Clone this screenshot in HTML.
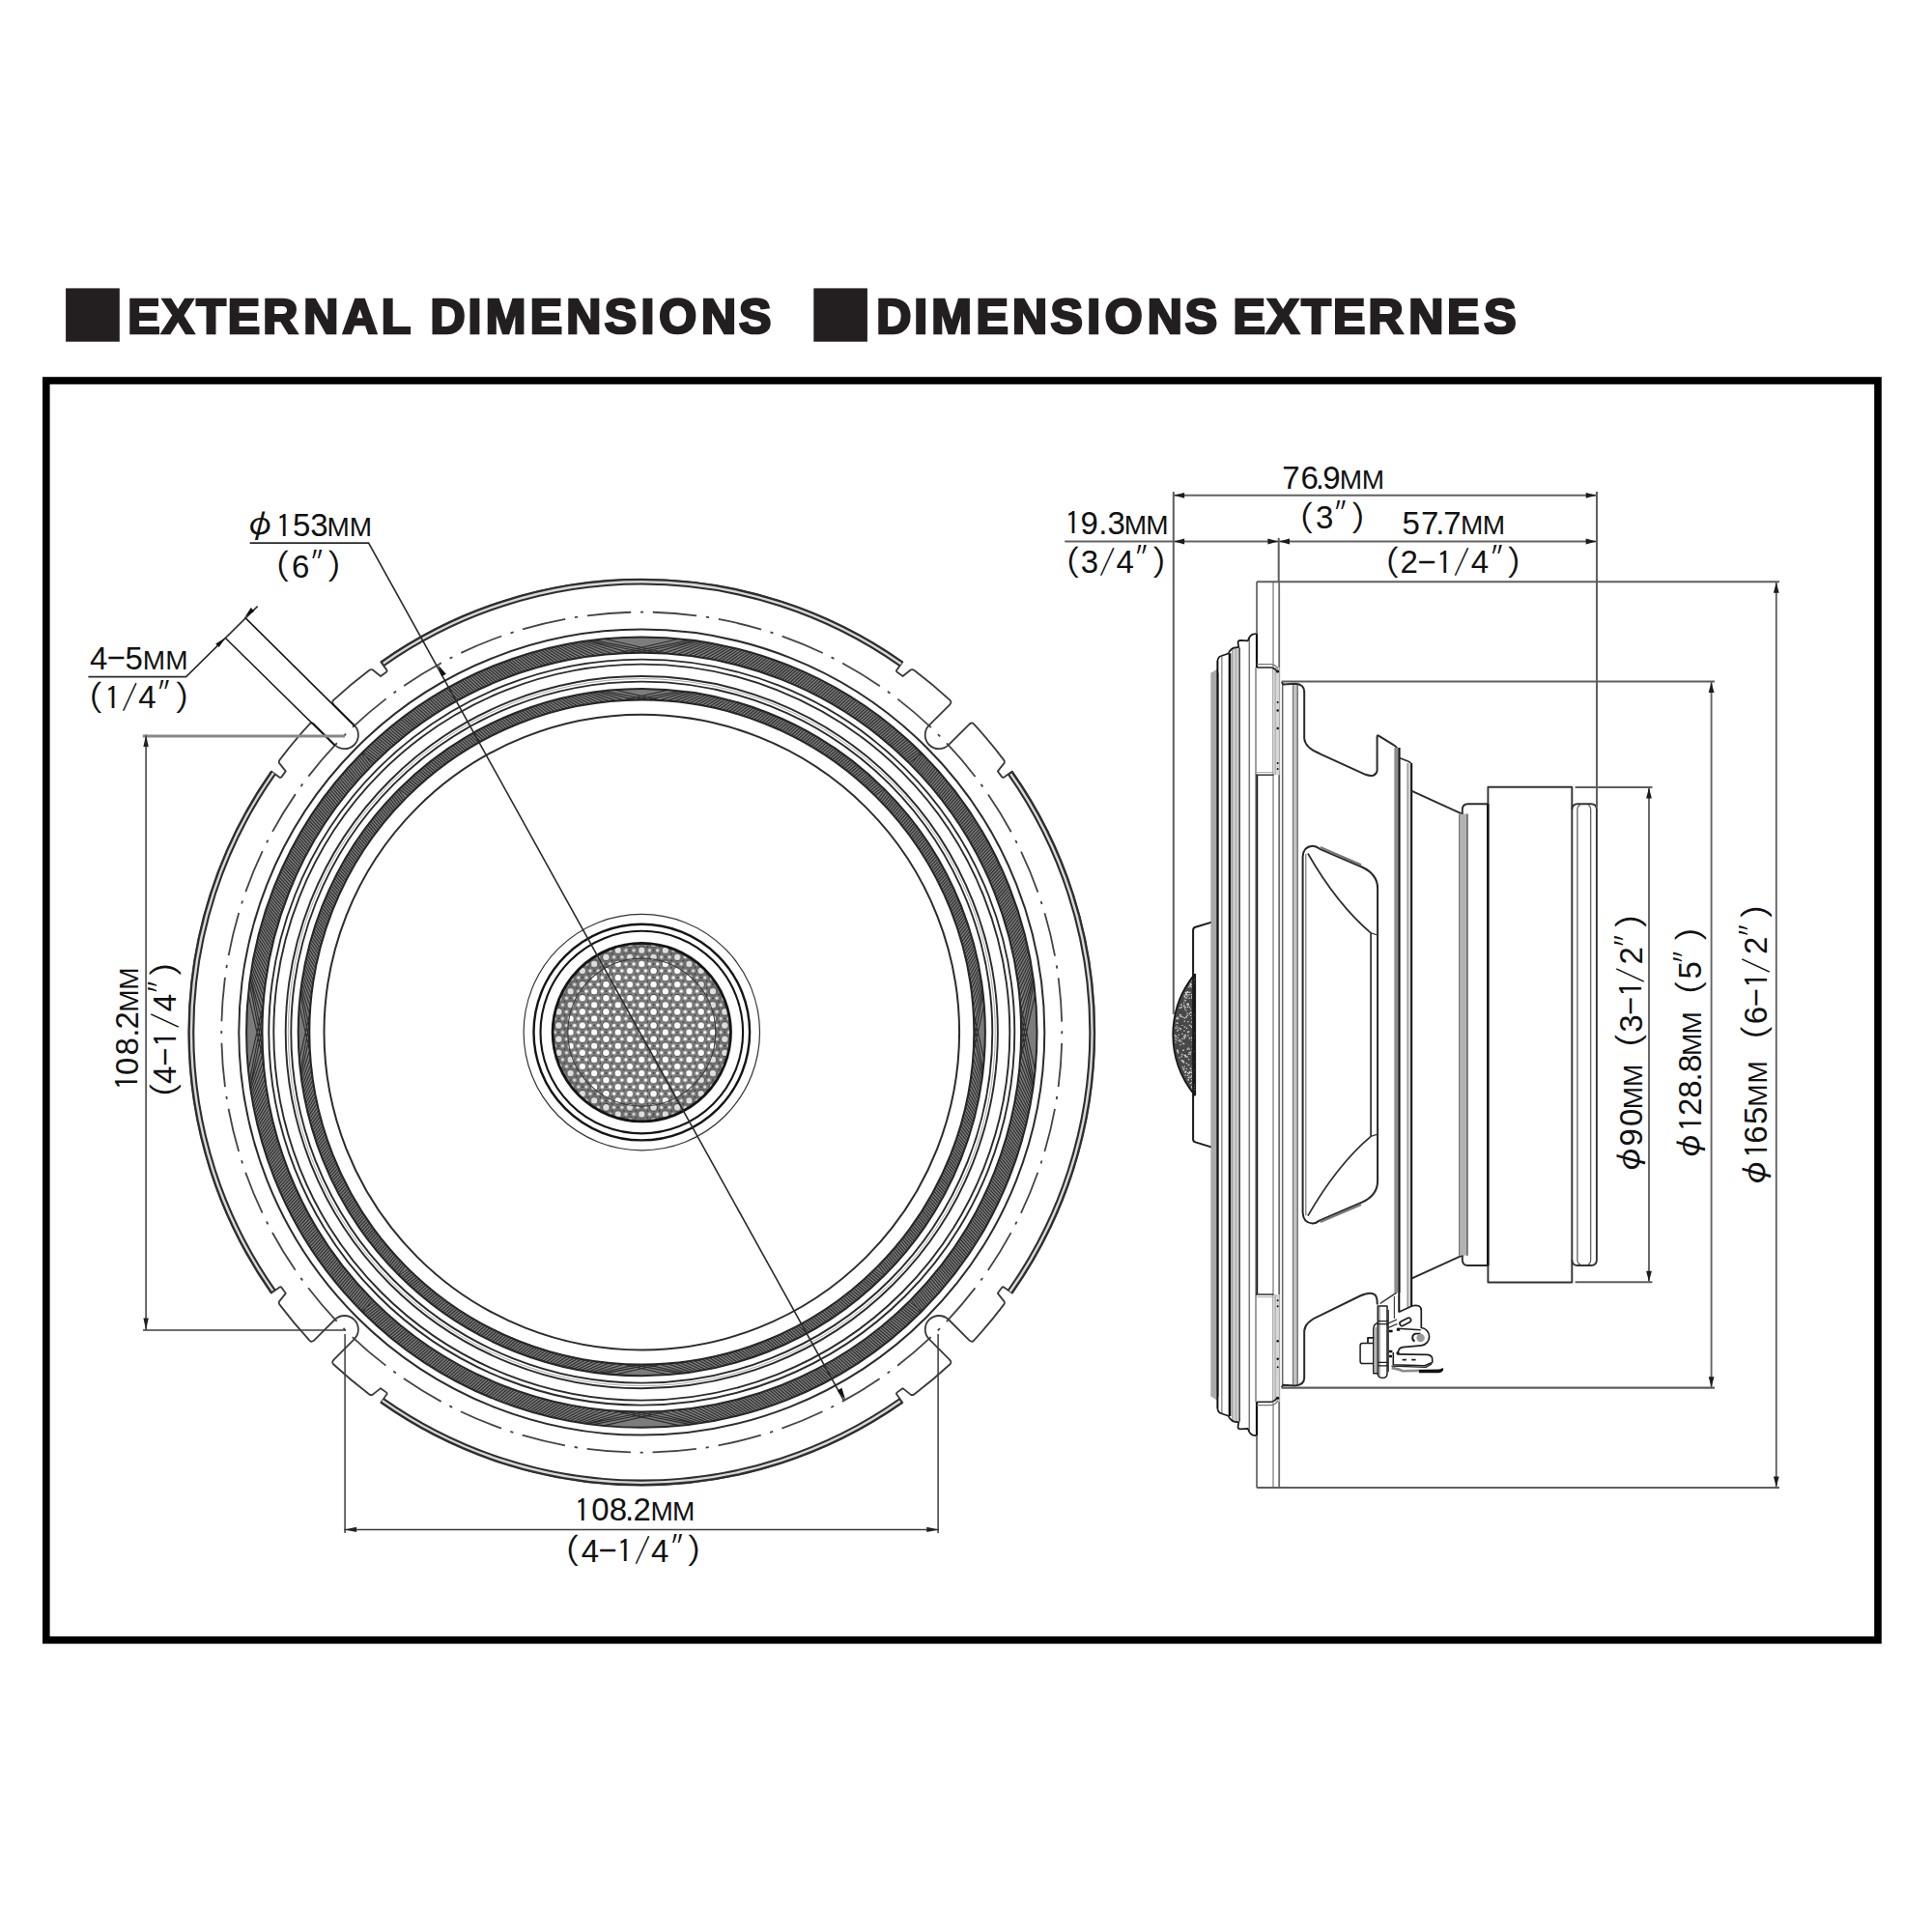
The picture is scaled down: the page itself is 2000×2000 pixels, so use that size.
<!DOCTYPE html>
<html lang="en">
<head>
<meta charset="utf-8">
<title>External Dimensions / Dimensions Externes</title>
<style>
html,body{margin:0;padding:0;background:#fff;}
body{width:2000px;height:2000px;position:relative;overflow:hidden;font-family:"Liberation Sans","IPAGothic",sans-serif;}
#drawing{position:absolute;left:0;top:0;width:2000px;height:2000px;display:block;}
</style>
</head>
<body>
<svg id="drawing" role="img" aria-label="Speaker external dimensions drawing" width="2000" height="2000" viewBox="0 0 2000 2000">
<defs>
<pattern id="mesh" patternUnits="userSpaceOnUse" x="664.3" y="1068.6" width="24.56" height="14.14">
<rect x="0" y="0" width="24.56" height="14.14" fill="#808080"/>
<g fill="#fff" stroke="#4a4a4a" stroke-width="1.1">
<circle cx="0" cy="0" r="3.9"/><circle cx="24.56" cy="0" r="3.9"/><circle cx="0" cy="14.14" r="3.9"/><circle cx="24.56" cy="14.14" r="3.9"/><circle cx="12.28" cy="7.07" r="3.9"/>
</g>
<g fill="#fff">
<circle cx="8.19" cy="0" r="1.7"/><circle cx="16.37" cy="0" r="1.7"/><circle cx="8.19" cy="14.14" r="1.7"/><circle cx="16.37" cy="14.14" r="1.7"/>
<circle cx="4.09" cy="7.07" r="1.7"/><circle cx="20.47" cy="7.07" r="1.7"/>
</g>
<g fill="#3a3a3a">
<circle cx="6.14" cy="3.53" r="0.9"/><circle cx="18.42" cy="3.53" r="0.9"/><circle cx="6.14" cy="10.6" r="0.9"/><circle cx="18.42" cy="10.6" r="0.9"/><circle cx="12.28" cy="0" r="0.9"/><circle cx="12.28" cy="14.14" r="0.9"/><circle cx="0" cy="7.07" r="0.9"/><circle cx="24.56" cy="7.07" r="0.9"/>
</g>
</pattern>
</defs>

<g id="titles" fill="#231f20">
<rect x="68.1" y="298.4" width="55.7" height="55.3"/>
<rect x="842.3" y="298.4" width="55.6" height="55.3"/>
<text text-anchor="middle" y="345.3" font-family="'Liberation Sans', sans-serif" font-weight="bold" font-size="50" stroke="#231f20" stroke-width="2.7" stroke-linejoin="miter"><tspan x="149.0">E</tspan><tspan x="184.2">X</tspan><tspan x="218.4">T</tspan><tspan x="252.5">E</tspan><tspan x="290.3">R</tspan><tspan x="332.2">N</tspan><tspan x="372.6">A</tspan><tspan x="409.9">L</tspan><tspan x="436.7"> </tspan><tspan x="463.5">D</tspan><tspan x="491.4">I</tspan><tspan x="523.5">M</tspan><tspan x="565.5">E</tspan><tspan x="604.3">N</tspan><tspan x="642.5">S</tspan><tspan x="670.5">I</tspan><tspan x="701.6">O</tspan><tspan x="744.0">N</tspan><tspan x="781.8">S</tspan></text>
<text text-anchor="middle" y="345.3" font-family="'Liberation Sans', sans-serif" font-weight="bold" font-size="50" stroke="#231f20" stroke-width="2.7" stroke-linejoin="miter"><tspan x="925.2">D</tspan><tspan x="953.1">I</tspan><tspan x="985.2">M</tspan><tspan x="1027.2">E</tspan><tspan x="1066.0">N</tspan><tspan x="1104.2">S</tspan><tspan x="1132.2">I</tspan><tspan x="1163.3">O</tspan><tspan x="1205.7">N</tspan><tspan x="1243.5">S</tspan><tspan x="1268.3"> </tspan><tspan x="1293.2">E</tspan><tspan x="1328.3">X</tspan><tspan x="1362.5">T</tspan><tspan x="1396.7">E</tspan><tspan x="1434.5">R</tspan><tspan x="1476.4">N</tspan><tspan x="1514.7">E</tspan><tspan x="1553.0">S</tspan></text>
</g>
<rect x="47.8" y="394" width="1896.2" height="1303.8" fill="none" stroke="#000" stroke-width="7.6"/>
<g id="front-view" fill="none" stroke-linecap="butt">
<clipPath id="bandclip1"><path clip-rule="evenodd" d="M255.1 1068.6A409.2 409.2 0 1 0 1073.5 1068.6A409.2 409.2 0 1 0 255.1 1068.6ZM271.5 1068.6A392.8 392.8 0 1 0 1057.1 1068.6A392.8 392.8 0 1 0 271.5 1068.6Z"/></clipPath>
<circle cx="664.3" cy="1068.6" r="401" stroke="#7c7c7c" stroke-width="16.4"/>
<path clip-path="url(#bandclip1)" d="M1053.6 1028.7L1072.6 1112.6M1054.5 1039.5L1071.3 1123.9M1055.4 1056.4L1070.6 1128.8M1055.5 1075.5L1070.6 1128.4M1055.2 1086.7L1070.2 1131.1M1054.7 1095.2L1069.7 1134.5M1054.1 1102.4L1069.1 1138.0M1053.5 1108.6L1068.5 1141.5M1052.9 1114.3L1067.8 1145.1M1052.3 1119.5L1067.1 1148.5M1051.6 1124.3L1066.5 1151.9M1050.9 1128.9L1065.7 1155.3M1050.2 1133.2L1065.0 1158.6M1049.5 1137.4L1064.3 1161.8M1048.8 1141.4L1063.5 1165.0M1048.0 1145.3L1062.8 1168.1M1047.3 1149.0L1062.0 1171.2M1046.5 1152.6L1061.2 1174.3M1045.7 1156.1L1060.4 1177.3M1044.9 1159.6L1059.5 1180.2M1044.1 1163.0L1058.7 1183.1M1043.2 1166.3L1057.9 1186.0M1042.4 1169.5L1057.0 1188.9M1041.5 1172.7L1056.1 1191.7M1040.6 1175.8L1055.2 1194.5M1039.7 1178.9L1054.3 1197.3M1038.8 1181.9L1053.4 1200.1M1037.9 1184.9L1052.5 1202.8M1037.0 1187.8L1051.5 1205.5M1036.1 1190.7L1050.6 1208.2M1035.1 1193.5L1049.6 1210.8M1034.1 1196.4L1048.6 1213.4M1033.2 1199.2L1047.6 1216.1M1032.2 1201.9L1046.6 1218.7M1031.2 1204.7L1045.6 1221.2M1030.2 1207.4L1044.6 1223.8M1029.1 1210.1L1043.5 1226.3M1028.1 1212.7L1042.4 1228.9M1027.0 1215.3L1041.4 1231.4M1026.0 1217.9L1040.3 1233.9M1024.9 1220.5L1039.2 1236.3M1023.8 1223.1L1038.1 1238.8M1022.7 1225.6L1036.9 1241.2M1021.6 1228.2L1035.8 1243.7M1020.5 1230.7L1034.7 1246.1M1019.3 1233.1L1033.5 1248.5M1018.2 1235.6L1032.3 1250.9M1017.0 1238.0L1031.1 1253.3M1015.8 1240.5L1029.9 1255.7M1014.6 1242.9L1028.7 1258.0M1013.4 1245.3L1027.5 1260.4M1012.2 1247.6L1026.2 1262.7M1011.0 1250.0L1025.0 1265.0M1009.8 1252.3L1023.7 1267.3M1008.5 1254.7L1022.5 1269.6M1007.3 1257.0L1021.2 1271.9M1006.0 1259.3L1019.9 1274.2M1004.7 1261.6L1018.5 1276.4M1003.4 1263.8L1017.2 1278.7M1002.1 1266.1L1015.9 1280.9M1000.8 1268.3L1014.5 1283.1M999.4 1270.6L1013.2 1285.3M998.1 1272.8L1011.8 1287.5M996.7 1275.0L1010.4 1289.7M995.4 1277.2L1009.0 1291.9M994.0 1279.3L1007.6 1294.1M992.6 1281.5L1006.1 1296.2M991.2 1283.7L1004.7 1298.4M989.8 1285.8L1003.2 1300.5M988.4 1287.9L1001.8 1302.7M986.9 1290.0L1000.3 1304.8M985.5 1292.1L998.8 1306.9M984.0 1294.2L997.3 1309.0M982.5 1296.3L995.8 1311.1M981.1 1298.3L994.3 1313.1M979.6 1300.4L992.7 1315.2M978.1 1302.4L991.2 1317.3M976.5 1304.4L989.6 1319.3M975.0 1306.5L988.0 1321.3M973.5 1308.5L986.4 1323.4M971.9 1310.4L984.8 1325.4M970.4 1312.4L983.2 1327.4M968.8 1314.4L981.6 1329.3M967.2 1316.3L980.0 1331.3M965.6 1318.3L978.3 1333.3M964.0 1320.2L976.7 1335.2M962.4 1322.1L975.0 1337.2M960.7 1324.0L973.3 1339.1M959.1 1325.9L971.6 1341.0M957.5 1327.8L969.9 1343.0M955.8 1329.7L968.2 1344.9M954.1 1331.5L966.5 1346.7M952.4 1333.4L964.7 1348.6M950.7 1335.2L963.0 1350.5M949.0 1337.0L961.2 1352.3M947.3 1338.8L959.5 1354.2M945.6 1340.6L957.7 1356.0M943.9 1342.4L955.9 1357.8M942.1 1344.2L954.1 1359.6M1053.6 1108.5L1072.6 1024.6M1054.5 1097.7L1071.3 1013.3M1055.4 1080.8L1070.6 1008.4M1055.5 1061.7L1070.6 1008.8M1055.2 1050.5L1070.2 1006.1M1054.7 1042.0L1069.7 1002.7M1054.1 1034.8L1069.1 999.2M1053.5 1028.6L1068.5 995.7M1052.9 1022.9L1067.8 992.1M1052.3 1017.7L1067.1 988.7M1051.6 1012.9L1066.5 985.3M1050.9 1008.3L1065.7 981.9M1050.2 1004.0L1065.0 978.6M1049.5 999.8L1064.3 975.4M1048.8 995.8L1063.5 972.2M1048.0 991.9L1062.8 969.1M1047.3 988.2L1062.0 966.0M1046.5 984.6L1061.2 962.9M1045.7 981.1L1060.4 959.9M1044.9 977.6L1059.5 957.0M1044.1 974.2L1058.7 954.1M1043.2 970.9L1057.9 951.2M1042.4 967.7L1057.0 948.3M1041.5 964.5L1056.1 945.5M1040.6 961.4L1055.2 942.7M1039.7 958.3L1054.3 939.9M1038.8 955.3L1053.4 937.1M1037.9 952.3L1052.5 934.4M1037.0 949.4L1051.5 931.7M1036.1 946.5L1050.6 929.0M1035.1 943.7L1049.6 926.4M1034.1 940.8L1048.6 923.8M1033.2 938.0L1047.6 921.1M1032.2 935.3L1046.6 918.5M1031.2 932.5L1045.6 916.0M1030.2 929.8L1044.6 913.4M1029.1 927.1L1043.5 910.9M1028.1 924.5L1042.4 908.3M1027.0 921.9L1041.4 905.8M1026.0 919.3L1040.3 903.3M1024.9 916.7L1039.2 900.9M1023.8 914.1L1038.1 898.4M1022.7 911.6L1036.9 896.0M1021.6 909.0L1035.8 893.5M1020.5 906.5L1034.7 891.1M1019.3 904.1L1033.5 888.7M1018.2 901.6L1032.3 886.3M1017.0 899.2L1031.1 883.9M1015.8 896.7L1029.9 881.5M1014.6 894.3L1028.7 879.2M1013.4 891.9L1027.5 876.8M1012.2 889.6L1026.2 874.5M1011.0 887.2L1025.0 872.2M1009.8 884.9L1023.7 869.9M1008.5 882.5L1022.5 867.6M1007.3 880.2L1021.2 865.3M1006.0 877.9L1019.9 863.0M1004.7 875.6L1018.5 860.8M1003.4 873.4L1017.2 858.5M1002.1 871.1L1015.9 856.3M1000.8 868.9L1014.5 854.1M999.4 866.6L1013.2 851.9M998.1 864.4L1011.8 849.7M996.7 862.2L1010.4 847.5M995.4 860.0L1009.0 845.3M994.0 857.9L1007.6 843.1M992.6 855.7L1006.1 841.0M991.2 853.5L1004.7 838.8M989.8 851.4L1003.2 836.7M988.4 849.3L1001.8 834.5M986.9 847.2L1000.3 832.4M985.5 845.1L998.8 830.3M984.0 843.0L997.3 828.2M982.5 840.9L995.8 826.1M981.1 838.9L994.3 824.1M979.6 836.8L992.7 822.0M978.1 834.8L991.2 819.9M976.5 832.8L989.6 817.9M975.0 830.7L988.0 815.9M973.5 828.7L986.4 813.8M971.9 826.8L984.8 811.8M970.4 824.8L983.2 809.8M968.8 822.8L981.6 807.9M967.2 820.9L980.0 805.9M965.6 818.9L978.3 803.9M964.0 817.0L976.7 802.0M962.4 815.1L975.0 800.0M960.7 813.2L973.3 798.1M959.1 811.3L971.6 796.2M957.5 809.4L969.9 794.2M955.8 807.5L968.2 792.3M954.1 805.7L966.5 790.5M952.4 803.8L964.7 788.6M950.7 802.0L963.0 786.7M949.0 800.2L961.2 784.9M947.3 798.4L959.5 783.0M945.6 796.6L957.7 781.2M943.9 794.8L955.9 779.4M942.1 793.0L954.1 777.6M704.2 1457.9L620.3 1476.9M693.4 1458.8L609.0 1475.6M676.5 1459.7L604.1 1474.9M657.4 1459.8L604.5 1474.9M646.2 1459.5L601.8 1474.5M637.7 1459.0L598.4 1474.0M630.5 1458.4L594.9 1473.4M624.3 1457.8L591.4 1472.8M618.6 1457.2L587.8 1472.1M613.4 1456.6L584.4 1471.4M608.6 1455.9L581.0 1470.8M604.0 1455.2L577.6 1470.0M599.7 1454.5L574.3 1469.3M595.5 1453.8L571.1 1468.6M591.5 1453.1L567.9 1467.8M587.6 1452.3L564.8 1467.1M583.9 1451.6L561.7 1466.3M580.3 1450.8L558.6 1465.5M576.8 1450.0L555.6 1464.7M573.3 1449.2L552.7 1463.8M569.9 1448.4L549.8 1463.0M566.6 1447.5L546.9 1462.2M563.4 1446.7L544.0 1461.3M560.2 1445.8L541.2 1460.4M557.1 1444.9L538.4 1459.5M554.0 1444.0L535.6 1458.6M551.0 1443.1L532.8 1457.7M548.0 1442.2L530.1 1456.8M545.1 1441.3L527.4 1455.8M542.2 1440.4L524.7 1454.9M539.4 1439.4L522.1 1453.9M536.5 1438.4L519.5 1452.9M533.7 1437.5L516.8 1451.9M531.0 1436.5L514.2 1450.9M528.2 1435.5L511.7 1449.9M525.5 1434.5L509.1 1448.9M522.8 1433.4L506.6 1447.8M520.2 1432.4L504.0 1446.7M517.6 1431.3L501.5 1445.7M515.0 1430.3L499.0 1444.6M512.4 1429.2L496.6 1443.5M509.8 1428.1L494.1 1442.4M507.3 1427.0L491.7 1441.2M504.7 1425.9L489.2 1440.1M502.2 1424.8L486.8 1439.0M499.8 1423.6L484.4 1437.8M497.3 1422.5L482.0 1436.6M494.9 1421.3L479.6 1435.4M492.4 1420.1L477.2 1434.2M490.0 1418.9L474.9 1433.0M487.6 1417.7L472.5 1431.8M485.3 1416.5L470.2 1430.5M482.9 1415.3L467.9 1429.3M480.6 1414.1L465.6 1428.0M478.2 1412.8L463.3 1426.8M475.9 1411.6L461.0 1425.5M473.6 1410.3L458.7 1424.2M471.3 1409.0L456.5 1422.8M469.1 1407.7L454.2 1421.5M466.8 1406.4L452.0 1420.2M464.6 1405.1L449.8 1418.8M462.3 1403.7L447.6 1417.5M460.1 1402.4L445.4 1416.1M457.9 1401.0L443.2 1414.7M455.7 1399.7L441.0 1413.3M453.6 1398.3L438.8 1411.9M451.4 1396.9L436.7 1410.4M449.2 1395.5L434.5 1409.0M447.1 1394.1L432.4 1407.5M445.0 1392.7L430.2 1406.1M442.9 1391.2L428.1 1404.6M440.8 1389.8L426.0 1403.1M438.7 1388.3L423.9 1401.6M436.6 1386.8L421.8 1400.1M434.6 1385.4L419.8 1398.6M432.5 1383.9L417.7 1397.0M430.5 1382.4L415.6 1395.5M428.5 1380.8L413.6 1393.9M426.4 1379.3L411.6 1392.3M424.4 1377.8L409.5 1390.7M422.5 1376.2L407.5 1389.1M420.5 1374.7L405.5 1387.5M418.5 1373.1L403.6 1385.9M416.6 1371.5L401.6 1384.3M414.6 1369.9L399.6 1382.6M412.7 1368.3L397.7 1381.0M410.8 1366.7L395.7 1379.3M408.9 1365.0L393.8 1377.6M407.0 1363.4L391.9 1375.9M405.1 1361.8L389.9 1374.2M403.2 1360.1L388.0 1372.5M401.4 1358.4L386.2 1370.8M399.5 1356.7L384.3 1369.0M397.7 1355.0L382.4 1367.3M395.9 1353.3L380.6 1365.5M394.1 1351.6L378.7 1363.8M392.3 1349.9L376.9 1362.0M390.5 1348.2L375.1 1360.2M388.7 1346.4L373.3 1358.4M624.4 1457.9L708.3 1476.9M635.2 1458.8L719.6 1475.6M652.1 1459.7L724.5 1474.9M671.2 1459.8L724.1 1474.9M682.4 1459.5L726.8 1474.5M690.9 1459.0L730.2 1474.0M698.1 1458.4L733.7 1473.4M704.3 1457.8L737.2 1472.8M710.0 1457.2L740.8 1472.1M715.2 1456.6L744.2 1471.4M720.0 1455.9L747.6 1470.8M724.6 1455.2L751.0 1470.0M728.9 1454.5L754.3 1469.3M733.1 1453.8L757.5 1468.6M737.1 1453.1L760.7 1467.8M741.0 1452.3L763.8 1467.1M744.7 1451.6L766.9 1466.3M748.3 1450.8L770.0 1465.5M751.8 1450.0L773.0 1464.7M755.3 1449.2L775.9 1463.8M758.7 1448.4L778.8 1463.0M762.0 1447.5L781.7 1462.2M765.2 1446.7L784.6 1461.3M768.4 1445.8L787.4 1460.4M771.5 1444.9L790.2 1459.5M774.6 1444.0L793.0 1458.6M777.6 1443.1L795.8 1457.7M780.6 1442.2L798.5 1456.8M783.5 1441.3L801.2 1455.8M786.4 1440.4L803.9 1454.9M789.2 1439.4L806.5 1453.9M792.1 1438.4L809.1 1452.9M794.9 1437.5L811.8 1451.9M797.6 1436.5L814.4 1450.9M800.4 1435.5L816.9 1449.9M803.1 1434.5L819.5 1448.9M805.8 1433.4L822.0 1447.8M808.4 1432.4L824.6 1446.7M811.0 1431.3L827.1 1445.7M813.6 1430.3L829.6 1444.6M816.2 1429.2L832.0 1443.5M818.8 1428.1L834.5 1442.4M821.3 1427.0L836.9 1441.2M823.9 1425.9L839.4 1440.1M826.4 1424.8L841.8 1439.0M828.8 1423.6L844.2 1437.8M831.3 1422.5L846.6 1436.6M833.7 1421.3L849.0 1435.4M836.2 1420.1L851.4 1434.2M838.6 1418.9L853.7 1433.0M841.0 1417.7L856.1 1431.8M843.3 1416.5L858.4 1430.5M845.7 1415.3L860.7 1429.3M848.0 1414.1L863.0 1428.0M850.4 1412.8L865.3 1426.8M852.7 1411.6L867.6 1425.5M855.0 1410.3L869.9 1424.2M857.3 1409.0L872.1 1422.8M859.5 1407.7L874.4 1421.5M861.8 1406.4L876.6 1420.2M864.0 1405.1L878.8 1418.8M866.3 1403.7L881.0 1417.5M868.5 1402.4L883.2 1416.1M870.7 1401.0L885.4 1414.7M872.9 1399.7L887.6 1413.3M875.0 1398.3L889.8 1411.9M877.2 1396.9L891.9 1410.4M879.4 1395.5L894.1 1409.0M881.5 1394.1L896.2 1407.5M883.6 1392.7L898.4 1406.1M885.7 1391.2L900.5 1404.6M887.8 1389.8L902.6 1403.1M889.9 1388.3L904.7 1401.6M892.0 1386.8L906.8 1400.1M894.0 1385.4L908.8 1398.6M896.1 1383.9L910.9 1397.0M898.1 1382.4L913.0 1395.5M900.1 1380.8L915.0 1393.9M902.2 1379.3L917.0 1392.3M904.2 1377.8L919.1 1390.7M906.1 1376.2L921.1 1389.1M908.1 1374.7L923.1 1387.5M910.1 1373.1L925.0 1385.9M912.0 1371.5L927.0 1384.3M914.0 1369.9L929.0 1382.6M915.9 1368.3L930.9 1381.0M917.8 1366.7L932.9 1379.3M919.7 1365.0L934.8 1377.6M921.6 1363.4L936.7 1375.9M923.5 1361.8L938.7 1374.2M925.4 1360.1L940.6 1372.5M927.2 1358.4L942.4 1370.8M929.1 1356.7L944.3 1369.0M930.9 1355.0L946.2 1367.3M932.7 1353.3L948.0 1365.5M934.5 1351.6L949.9 1363.8M936.3 1349.9L951.7 1362.0M938.1 1348.2L953.5 1360.2M939.9 1346.4L955.3 1358.4M275.0 1108.5L256.0 1024.6M274.1 1097.7L257.3 1013.3M273.2 1080.8L258.0 1008.4M273.1 1061.7L258.0 1008.8M273.4 1050.5L258.4 1006.1M273.9 1042.0L258.9 1002.7M274.5 1034.8L259.5 999.2M275.1 1028.6L260.1 995.7M275.7 1022.9L260.8 992.1M276.3 1017.7L261.5 988.7M277.0 1012.9L262.1 985.3M277.7 1008.3L262.9 981.9M278.4 1004.0L263.6 978.6M279.1 999.8L264.3 975.4M279.8 995.8L265.1 972.2M280.6 991.9L265.8 969.1M281.3 988.2L266.6 966.0M282.1 984.6L267.4 962.9M282.9 981.1L268.2 959.9M283.7 977.6L269.1 957.0M284.5 974.2L269.9 954.1M285.4 970.9L270.7 951.2M286.2 967.7L271.6 948.3M287.1 964.5L272.5 945.5M288.0 961.4L273.4 942.7M288.9 958.3L274.3 939.9M289.8 955.3L275.2 937.1M290.7 952.3L276.1 934.4M291.6 949.4L277.1 931.7M292.5 946.5L278.0 929.0M293.5 943.7L279.0 926.4M294.5 940.8L280.0 923.8M295.4 938.0L281.0 921.1M296.4 935.3L282.0 918.5M297.4 932.5L283.0 916.0M298.4 929.8L284.0 913.4M299.5 927.1L285.1 910.9M300.5 924.5L286.2 908.3M301.6 921.9L287.2 905.8M302.6 919.3L288.3 903.3M303.7 916.7L289.4 900.9M304.8 914.1L290.5 898.4M305.9 911.6L291.7 896.0M307.0 909.0L292.8 893.5M308.1 906.5L293.9 891.1M309.3 904.1L295.1 888.7M310.4 901.6L296.3 886.3M311.6 899.2L297.5 883.9M312.8 896.7L298.7 881.5M314.0 894.3L299.9 879.2M315.2 891.9L301.1 876.8M316.4 889.6L302.4 874.5M317.6 887.2L303.6 872.2M318.8 884.9L304.9 869.9M320.1 882.5L306.1 867.6M321.3 880.2L307.4 865.3M322.6 877.9L308.7 863.0M323.9 875.6L310.1 860.8M325.2 873.4L311.4 858.5M326.5 871.1L312.7 856.3M327.8 868.9L314.1 854.1M329.2 866.6L315.4 851.9M330.5 864.4L316.8 849.7M331.9 862.2L318.2 847.5M333.2 860.0L319.6 845.3M334.6 857.9L321.0 843.1M336.0 855.7L322.5 841.0M337.4 853.5L323.9 838.8M338.8 851.4L325.4 836.7M340.2 849.3L326.8 834.5M341.7 847.2L328.3 832.4M343.1 845.1L329.8 830.3M344.6 843.0L331.3 828.2M346.1 840.9L332.8 826.1M347.5 838.9L334.3 824.1M349.0 836.8L335.9 822.0M350.5 834.8L337.4 819.9M352.1 832.8L339.0 817.9M353.6 830.7L340.6 815.9M355.1 828.7L342.2 813.8M356.7 826.8L343.8 811.8M358.2 824.8L345.4 809.8M359.8 822.8L347.0 807.9M361.4 820.9L348.6 805.9M363.0 818.9L350.3 803.9M364.6 817.0L351.9 802.0M366.2 815.1L353.6 800.0M367.9 813.2L355.3 798.1M369.5 811.3L357.0 796.2M371.1 809.4L358.7 794.2M372.8 807.5L360.4 792.3M374.5 805.7L362.1 790.5M376.2 803.8L363.9 788.6M377.9 802.0L365.6 786.7M379.6 800.2L367.4 784.9M381.3 798.4L369.1 783.0M383.0 796.6L370.9 781.2M384.7 794.8L372.7 779.4M386.5 793.0L374.5 777.6M275.0 1028.7L256.0 1112.6M274.1 1039.5L257.3 1123.9M273.2 1056.4L258.0 1128.8M273.1 1075.5L258.0 1128.4M273.4 1086.7L258.4 1131.1M273.9 1095.2L258.9 1134.5M274.5 1102.4L259.5 1138.0M275.1 1108.6L260.1 1141.5M275.7 1114.3L260.8 1145.1M276.3 1119.5L261.5 1148.5M277.0 1124.3L262.1 1151.9M277.7 1128.9L262.9 1155.3M278.4 1133.2L263.6 1158.6M279.1 1137.4L264.3 1161.8M279.8 1141.4L265.1 1165.0M280.6 1145.3L265.8 1168.1M281.3 1149.0L266.6 1171.2M282.1 1152.6L267.4 1174.3M282.9 1156.1L268.2 1177.3M283.7 1159.6L269.1 1180.2M284.5 1163.0L269.9 1183.1M285.4 1166.3L270.7 1186.0M286.2 1169.5L271.6 1188.9M287.1 1172.7L272.5 1191.7M288.0 1175.8L273.4 1194.5M288.9 1178.9L274.3 1197.3M289.8 1181.9L275.2 1200.1M290.7 1184.9L276.1 1202.8M291.6 1187.8L277.1 1205.5M292.5 1190.7L278.0 1208.2M293.5 1193.5L279.0 1210.8M294.5 1196.4L280.0 1213.4M295.4 1199.2L281.0 1216.1M296.4 1201.9L282.0 1218.7M297.4 1204.7L283.0 1221.2M298.4 1207.4L284.0 1223.8M299.5 1210.1L285.1 1226.3M300.5 1212.7L286.2 1228.9M301.6 1215.3L287.2 1231.4M302.6 1217.9L288.3 1233.9M303.7 1220.5L289.4 1236.3M304.8 1223.1L290.5 1238.8M305.9 1225.6L291.7 1241.2M307.0 1228.2L292.8 1243.7M308.1 1230.7L293.9 1246.1M309.3 1233.1L295.1 1248.5M310.4 1235.6L296.3 1250.9M311.6 1238.0L297.5 1253.3M312.8 1240.5L298.7 1255.7M314.0 1242.9L299.9 1258.0M315.2 1245.3L301.1 1260.4M316.4 1247.6L302.4 1262.7M317.6 1250.0L303.6 1265.0M318.8 1252.3L304.9 1267.3M320.1 1254.7L306.1 1269.6M321.3 1257.0L307.4 1271.9M322.6 1259.3L308.7 1274.2M323.9 1261.6L310.1 1276.4M325.2 1263.8L311.4 1278.7M326.5 1266.1L312.7 1280.9M327.8 1268.3L314.1 1283.1M329.2 1270.6L315.4 1285.3M330.5 1272.8L316.8 1287.5M331.9 1275.0L318.2 1289.7M333.2 1277.2L319.6 1291.9M334.6 1279.3L321.0 1294.1M336.0 1281.5L322.5 1296.2M337.4 1283.7L323.9 1298.4M338.8 1285.8L325.4 1300.5M340.2 1287.9L326.8 1302.7M341.7 1290.0L328.3 1304.8M343.1 1292.1L329.8 1306.9M344.6 1294.2L331.3 1309.0M346.1 1296.3L332.8 1311.1M347.5 1298.3L334.3 1313.1M349.0 1300.4L335.9 1315.2M350.5 1302.4L337.4 1317.3M352.1 1304.4L339.0 1319.3M353.6 1306.5L340.6 1321.3M355.1 1308.5L342.2 1323.4M356.7 1310.4L343.8 1325.4M358.2 1312.4L345.4 1327.4M359.8 1314.4L347.0 1329.3M361.4 1316.3L348.6 1331.3M363.0 1318.3L350.3 1333.3M364.6 1320.2L351.9 1335.2M366.2 1322.1L353.6 1337.2M367.9 1324.0L355.3 1339.1M369.5 1325.9L357.0 1341.0M371.1 1327.8L358.7 1343.0M372.8 1329.7L360.4 1344.9M374.5 1331.5L362.1 1346.7M376.2 1333.4L363.9 1348.6M377.9 1335.2L365.6 1350.5M379.6 1337.0L367.4 1352.3M381.3 1338.8L369.1 1354.2M383.0 1340.6L370.9 1356.0M384.7 1342.4L372.7 1357.8M386.5 1344.2L374.5 1359.6M624.4 679.3L708.3 660.3M635.2 678.4L719.6 661.6M652.1 677.5L724.5 662.3M671.2 677.4L724.1 662.3M682.4 677.7L726.8 662.7M690.9 678.2L730.2 663.2M698.1 678.8L733.7 663.8M704.3 679.4L737.2 664.4M710.0 680.0L740.8 665.1M715.2 680.6L744.2 665.8M720.0 681.3L747.6 666.4M724.6 682.0L751.0 667.2M728.9 682.7L754.3 667.9M733.1 683.4L757.5 668.6M737.1 684.1L760.7 669.4M741.0 684.9L763.8 670.1M744.7 685.6L766.9 670.9M748.3 686.4L770.0 671.7M751.8 687.2L773.0 672.5M755.3 688.0L775.9 673.4M758.7 688.8L778.8 674.2M762.0 689.7L781.7 675.0M765.2 690.5L784.6 675.9M768.4 691.4L787.4 676.8M771.5 692.3L790.2 677.7M774.6 693.2L793.0 678.6M777.6 694.1L795.8 679.5M780.6 695.0L798.5 680.4M783.5 695.9L801.2 681.4M786.4 696.8L803.9 682.3M789.2 697.8L806.5 683.3M792.1 698.8L809.1 684.3M794.9 699.7L811.8 685.3M797.6 700.7L814.4 686.3M800.4 701.7L816.9 687.3M803.1 702.7L819.5 688.3M805.8 703.8L822.0 689.4M808.4 704.8L824.6 690.5M811.0 705.9L827.1 691.5M813.6 706.9L829.6 692.6M816.2 708.0L832.0 693.7M818.8 709.1L834.5 694.8M821.3 710.2L836.9 696.0M823.9 711.3L839.4 697.1M826.4 712.4L841.8 698.2M828.8 713.6L844.2 699.4M831.3 714.7L846.6 700.6M833.7 715.9L849.0 701.8M836.2 717.1L851.4 703.0M838.6 718.3L853.7 704.2M841.0 719.5L856.1 705.4M843.3 720.7L858.4 706.7M845.7 721.9L860.7 707.9M848.0 723.1L863.0 709.2M850.4 724.4L865.3 710.4M852.7 725.6L867.6 711.7M855.0 726.9L869.9 713.0M857.3 728.2L872.1 714.4M859.5 729.5L874.4 715.7M861.8 730.8L876.6 717.0M864.0 732.1L878.8 718.4M866.3 733.5L881.0 719.7M868.5 734.8L883.2 721.1M870.7 736.2L885.4 722.5M872.9 737.5L887.6 723.9M875.0 738.9L889.8 725.3M877.2 740.3L891.9 726.8M879.4 741.7L894.1 728.2M881.5 743.1L896.2 729.7M883.6 744.5L898.4 731.1M885.7 746.0L900.5 732.6M887.8 747.4L902.6 734.1M889.9 748.9L904.7 735.6M892.0 750.4L906.8 737.1M894.0 751.8L908.8 738.6M896.1 753.3L910.9 740.2M898.1 754.8L913.0 741.7M900.1 756.4L915.0 743.3M902.2 757.9L917.0 744.9M904.2 759.4L919.1 746.5M906.1 761.0L921.1 748.1M908.1 762.5L923.1 749.7M910.1 764.1L925.0 751.3M912.0 765.7L927.0 752.9M914.0 767.3L929.0 754.6M915.9 768.9L930.9 756.2M917.8 770.5L932.9 757.9M919.7 772.2L934.8 759.6M921.6 773.8L936.7 761.3M923.5 775.4L938.7 763.0M925.4 777.1L940.6 764.7M927.2 778.8L942.4 766.4M929.1 780.5L944.3 768.2M930.9 782.2L946.2 769.9M932.7 783.9L948.0 771.7M934.5 785.6L949.9 773.4M936.3 787.3L951.7 775.2M938.1 789.0L953.5 777.0M939.9 790.8L955.3 778.8M704.2 679.3L620.3 660.3M693.4 678.4L609.0 661.6M676.5 677.5L604.1 662.3M657.4 677.4L604.5 662.3M646.2 677.7L601.8 662.7M637.7 678.2L598.4 663.2M630.5 678.8L594.9 663.8M624.3 679.4L591.4 664.4M618.6 680.0L587.8 665.1M613.4 680.6L584.4 665.8M608.6 681.3L581.0 666.4M604.0 682.0L577.6 667.2M599.7 682.7L574.3 667.9M595.5 683.4L571.1 668.6M591.5 684.1L567.9 669.4M587.6 684.9L564.8 670.1M583.9 685.6L561.7 670.9M580.3 686.4L558.6 671.7M576.8 687.2L555.6 672.5M573.3 688.0L552.7 673.4M569.9 688.8L549.8 674.2M566.6 689.7L546.9 675.0M563.4 690.5L544.0 675.9M560.2 691.4L541.2 676.8M557.1 692.3L538.4 677.7M554.0 693.2L535.6 678.6M551.0 694.1L532.8 679.5M548.0 695.0L530.1 680.4M545.1 695.9L527.4 681.4M542.2 696.8L524.7 682.3M539.4 697.8L522.1 683.3M536.5 698.8L519.5 684.3M533.7 699.7L516.8 685.3M531.0 700.7L514.2 686.3M528.2 701.7L511.7 687.3M525.5 702.7L509.1 688.3M522.8 703.8L506.6 689.4M520.2 704.8L504.0 690.5M517.6 705.9L501.5 691.5M515.0 706.9L499.0 692.6M512.4 708.0L496.6 693.7M509.8 709.1L494.1 694.8M507.3 710.2L491.7 696.0M504.7 711.3L489.2 697.1M502.2 712.4L486.8 698.2M499.8 713.6L484.4 699.4M497.3 714.7L482.0 700.6M494.9 715.9L479.6 701.8M492.4 717.1L477.2 703.0M490.0 718.3L474.9 704.2M487.6 719.5L472.5 705.4M485.3 720.7L470.2 706.7M482.9 721.9L467.9 707.9M480.6 723.1L465.6 709.2M478.2 724.4L463.3 710.4M475.9 725.6L461.0 711.7M473.6 726.9L458.7 713.0M471.3 728.2L456.5 714.4M469.1 729.5L454.2 715.7M466.8 730.8L452.0 717.0M464.6 732.1L449.8 718.4M462.3 733.5L447.6 719.7M460.1 734.8L445.4 721.1M457.9 736.2L443.2 722.5M455.7 737.5L441.0 723.9M453.6 738.9L438.8 725.3M451.4 740.3L436.7 726.8M449.2 741.7L434.5 728.2M447.1 743.1L432.4 729.7M445.0 744.5L430.2 731.1M442.9 746.0L428.1 732.6M440.8 747.4L426.0 734.1M438.7 748.9L423.9 735.6M436.6 750.4L421.8 737.1M434.6 751.8L419.8 738.6M432.5 753.3L417.7 740.2M430.5 754.8L415.6 741.7M428.5 756.4L413.6 743.3M426.4 757.9L411.6 744.9M424.4 759.4L409.5 746.5M422.5 761.0L407.5 748.1M420.5 762.5L405.5 749.7M418.5 764.1L403.6 751.3M416.6 765.7L401.6 752.9M414.6 767.3L399.6 754.6M412.7 768.9L397.7 756.2M410.8 770.5L395.7 757.9M408.9 772.2L393.8 759.6M407.0 773.8L391.9 761.3M405.1 775.4L389.9 763.0M403.2 777.1L388.0 764.7M401.4 778.8L386.2 766.4M399.5 780.5L384.3 768.2M397.7 782.2L382.4 769.9M395.9 783.9L380.6 771.7M394.1 785.6L378.7 773.4M392.3 787.3L376.9 775.2M390.5 789.0L375.1 777.0M388.7 790.8L373.3 778.8" stroke="#2e2e2e" stroke-width="1.15" stroke-linecap="butt"/>
<circle cx="664.3" cy="1068.6" r="392.8" fill="none" stroke="#262626" stroke-width="2.0" />
<circle cx="664.3" cy="1068.6" r="409.2" fill="none" stroke="#262626" stroke-width="2.0" />
<clipPath id="bandclip2"><path clip-rule="evenodd" d="M308.7 1068.6A355.6 355.6 0 1 0 1019.9 1068.6A355.6 355.6 0 1 0 308.7 1068.6ZM320.3 1068.6A344 344 0 1 0 1008.3 1068.6A344 344 0 1 0 320.3 1068.6Z"/></clipPath>
<circle cx="664.3" cy="1068.6" r="349.8" stroke="#7c7c7c" stroke-width="11.6"/>
<path clip-path="url(#bandclip2)" d="M1005.5 1038.6L1019.9 1101.8M1006.3 1049.4L1018.6 1113.0M1006.8 1068.0L1018.2 1116.3M1006.5 1082.3L1017.9 1118.7M1006.0 1091.6L1017.3 1122.4M1005.5 1098.9L1016.7 1126.2M1004.9 1105.1L1016.1 1130.0M1004.2 1110.6L1015.4 1133.6M1003.6 1115.6L1014.7 1137.2M1002.9 1120.3L1014.0 1140.7M1002.2 1124.7L1013.3 1144.2M1001.4 1128.9L1012.6 1147.5M1000.7 1132.9L1011.8 1150.8M1000.0 1136.7L1011.1 1153.9M999.2 1140.4L1010.3 1157.1M998.4 1144.0L1009.5 1160.2M997.6 1147.5L1008.6 1163.2M996.8 1150.8L1007.8 1166.2M995.9 1154.1L1007.0 1169.1M995.1 1157.4L1006.1 1172.0M994.2 1160.5L1005.2 1174.9M993.4 1163.6L1004.3 1177.7M992.5 1166.7L1003.4 1180.5M991.6 1169.6L1002.5 1183.2M990.6 1172.6L1001.6 1186.0M989.7 1175.5L1000.6 1188.7M988.7 1178.3L999.6 1191.3M987.8 1181.2L998.7 1194.0M986.8 1183.9L997.7 1196.6M985.8 1186.7L996.7 1199.2M984.8 1189.4L995.6 1201.8M983.8 1192.1L994.6 1204.4M982.7 1194.7L993.5 1206.9M981.7 1197.4L992.5 1209.4M980.6 1200.0L991.4 1211.9M979.5 1202.5L990.3 1214.4M978.4 1205.1L989.2 1216.9M977.3 1207.6L988.0 1219.3M976.2 1210.1L986.9 1221.8M975.1 1212.6L985.7 1224.2M973.9 1215.1L984.5 1226.6M972.7 1217.5L983.4 1229.0M971.6 1219.9L982.2 1231.3M970.4 1222.3L980.9 1233.7M969.2 1224.7L979.7 1236.0M967.9 1227.1L978.5 1238.4M966.7 1229.4L977.2 1240.7M965.4 1231.7L975.9 1243.0M964.2 1234.1L974.6 1245.3M962.9 1236.4L973.3 1247.5M961.6 1238.6L972.0 1249.8M960.3 1240.9L970.7 1252.0M959.0 1243.1L969.3 1254.3M957.7 1245.4L968.0 1256.5M956.3 1247.6L966.6 1258.7M954.9 1249.8L965.2 1260.9M953.6 1252.0L963.8 1263.1M952.2 1254.1L962.4 1265.2M950.8 1256.3L961.0 1267.4M949.4 1258.4L959.5 1269.5M947.9 1260.6L958.0 1271.7M946.5 1262.7L956.6 1273.8M945.1 1264.8L955.1 1275.9M943.6 1266.9L953.6 1278.0M942.1 1268.9L952.1 1280.1M940.6 1271.0L950.5 1282.1M939.1 1273.0L949.0 1284.2M937.6 1275.0L947.4 1286.2M936.1 1277.1L945.9 1288.3M934.5 1279.1L944.3 1290.3M932.9 1281.0L942.7 1292.3M931.4 1283.0L941.1 1294.3M929.8 1285.0L939.4 1296.3M928.2 1286.9L937.8 1298.2M926.6 1288.9L936.1 1300.2M925.0 1290.8L934.5 1302.1M923.3 1292.7L932.8 1304.0M921.7 1294.6L931.1 1306.0M920.0 1296.4L929.4 1307.9M918.4 1298.3L927.7 1309.8M916.7 1300.1L925.9 1311.6M915.0 1302.0L924.2 1313.5M913.3 1303.8L922.4 1315.4M911.5 1305.6L920.7 1317.2M909.8 1307.4L918.9 1319.0M908.1 1309.2L917.1 1320.8M1005.5 1098.6L1019.9 1035.4M1006.3 1087.8L1018.6 1024.2M1006.8 1069.2L1018.2 1020.9M1006.5 1054.9L1017.9 1018.5M1006.0 1045.6L1017.3 1014.8M1005.5 1038.3L1016.7 1011.0M1004.9 1032.1L1016.1 1007.2M1004.2 1026.6L1015.4 1003.6M1003.6 1021.6L1014.7 1000.0M1002.9 1016.9L1014.0 996.5M1002.2 1012.5L1013.3 993.0M1001.4 1008.3L1012.6 989.7M1000.7 1004.3L1011.8 986.4M1000.0 1000.5L1011.1 983.3M999.2 996.8L1010.3 980.1M998.4 993.2L1009.5 977.0M997.6 989.7L1008.6 974.0M996.8 986.4L1007.8 971.0M995.9 983.1L1007.0 968.1M995.1 979.8L1006.1 965.2M994.2 976.7L1005.2 962.3M993.4 973.6L1004.3 959.5M992.5 970.5L1003.4 956.7M991.6 967.6L1002.5 954.0M990.6 964.6L1001.6 951.2M989.7 961.7L1000.6 948.5M988.7 958.9L999.6 945.9M987.8 956.0L998.7 943.2M986.8 953.3L997.7 940.6M985.8 950.5L996.7 938.0M984.8 947.8L995.6 935.4M983.8 945.1L994.6 932.8M982.7 942.5L993.5 930.3M981.7 939.8L992.5 927.8M980.6 937.2L991.4 925.3M979.5 934.7L990.3 922.8M978.4 932.1L989.2 920.3M977.3 929.6L988.0 917.9M976.2 927.1L986.9 915.4M975.1 924.6L985.7 913.0M973.9 922.1L984.5 910.6M972.7 919.7L983.4 908.2M971.6 917.3L982.2 905.9M970.4 914.9L980.9 903.5M969.2 912.5L979.7 901.2M967.9 910.1L978.5 898.8M966.7 907.8L977.2 896.5M965.4 905.5L975.9 894.2M964.2 903.1L974.6 891.9M962.9 900.8L973.3 889.7M961.6 898.6L972.0 887.4M960.3 896.3L970.7 885.2M959.0 894.1L969.3 882.9M957.7 891.8L968.0 880.7M956.3 889.6L966.6 878.5M954.9 887.4L965.2 876.3M953.6 885.2L963.8 874.1M952.2 883.1L962.4 872.0M950.8 880.9L961.0 869.8M949.4 878.8L959.5 867.7M947.9 876.6L958.0 865.5M946.5 874.5L956.6 863.4M945.1 872.4L955.1 861.3M943.6 870.3L953.6 859.2M942.1 868.3L952.1 857.1M940.6 866.2L950.5 855.1M939.1 864.2L949.0 853.0M937.6 862.2L947.4 851.0M936.1 860.1L945.9 848.9M934.5 858.1L944.3 846.9M932.9 856.2L942.7 844.9M931.4 854.2L941.1 842.9M929.8 852.2L939.4 840.9M928.2 850.3L937.8 839.0M926.6 848.3L936.1 837.0M925.0 846.4L934.5 835.1M923.3 844.5L932.8 833.2M921.7 842.6L931.1 831.2M920.0 840.8L929.4 829.3M918.4 838.9L927.7 827.4M916.7 837.1L925.9 825.6M915.0 835.2L924.2 823.7M913.3 833.4L922.4 821.8M911.5 831.6L920.7 820.0M909.8 829.8L918.9 818.2M908.1 828.0L917.1 816.4M694.3 1409.8L631.1 1424.2M683.5 1410.6L619.9 1422.9M664.9 1411.1L616.6 1422.5M650.6 1410.8L614.2 1422.2M641.3 1410.3L610.5 1421.6M634.0 1409.8L606.7 1421.0M627.8 1409.2L602.9 1420.4M622.3 1408.5L599.3 1419.7M617.3 1407.9L595.7 1419.0M612.6 1407.2L592.2 1418.3M608.2 1406.5L588.7 1417.6M604.0 1405.7L585.4 1416.9M600.0 1405.0L582.1 1416.1M596.2 1404.3L579.0 1415.4M592.5 1403.5L575.8 1414.6M588.9 1402.7L572.7 1413.8M585.4 1401.9L569.7 1412.9M582.1 1401.1L566.7 1412.1M578.8 1400.2L563.8 1411.3M575.5 1399.4L560.9 1410.4M572.4 1398.5L558.0 1409.5M569.3 1397.7L555.2 1408.6M566.2 1396.8L552.4 1407.7M563.3 1395.9L549.7 1406.8M560.3 1394.9L546.9 1405.9M557.4 1394.0L544.2 1404.9M554.6 1393.0L541.6 1403.9M551.7 1392.1L538.9 1403.0M549.0 1391.1L536.3 1402.0M546.2 1390.1L533.7 1401.0M543.5 1389.1L531.1 1399.9M540.8 1388.1L528.5 1398.9M538.2 1387.0L526.0 1397.8M535.5 1386.0L523.5 1396.8M532.9 1384.9L521.0 1395.7M530.4 1383.8L518.5 1394.6M527.8 1382.7L516.0 1393.5M525.3 1381.6L513.6 1392.3M522.8 1380.5L511.1 1391.2M520.3 1379.4L508.7 1390.0M517.8 1378.2L506.3 1388.8M515.4 1377.0L503.9 1387.7M513.0 1375.9L501.6 1386.5M510.6 1374.7L499.2 1385.2M508.2 1373.5L496.9 1384.0M505.8 1372.2L494.5 1382.8M503.5 1371.0L492.2 1381.5M501.2 1369.7L489.9 1380.2M498.8 1368.5L487.6 1378.9M496.5 1367.2L485.4 1377.6M494.3 1365.9L483.1 1376.3M492.0 1364.6L480.9 1375.0M489.8 1363.3L478.6 1373.6M487.5 1362.0L476.4 1372.3M485.3 1360.6L474.2 1370.9M483.1 1359.2L472.0 1369.5M480.9 1357.9L469.8 1368.1M478.8 1356.5L467.7 1366.7M476.6 1355.1L465.5 1365.3M474.5 1353.7L463.4 1363.8M472.3 1352.2L461.2 1362.3M470.2 1350.8L459.1 1360.9M468.1 1349.4L457.0 1359.4M466.0 1347.9L454.9 1357.9M464.0 1346.4L452.8 1356.4M461.9 1344.9L450.8 1354.8M459.9 1343.4L448.7 1353.3M457.9 1341.9L446.7 1351.7M455.8 1340.4L444.6 1350.2M453.8 1338.8L442.6 1348.6M451.9 1337.2L440.6 1347.0M449.9 1335.7L438.6 1345.4M447.9 1334.1L436.6 1343.7M446.0 1332.5L434.7 1342.1M444.0 1330.9L432.7 1340.4M442.1 1329.3L430.8 1338.8M440.2 1327.6L428.9 1337.1M438.3 1326.0L426.9 1335.4M436.5 1324.3L425.0 1333.7M434.6 1322.7L423.1 1332.0M432.8 1321.0L421.3 1330.2M430.9 1319.3L419.4 1328.5M429.1 1317.6L417.5 1326.7M427.3 1315.8L415.7 1325.0M425.5 1314.1L413.9 1323.2M423.7 1312.4L412.1 1321.4M634.3 1409.8L697.5 1424.2M645.1 1410.6L708.7 1422.9M663.7 1411.1L712.0 1422.5M678.0 1410.8L714.4 1422.2M687.3 1410.3L718.1 1421.6M694.6 1409.8L721.9 1421.0M700.8 1409.2L725.7 1420.4M706.3 1408.5L729.3 1419.7M711.3 1407.9L732.9 1419.0M716.0 1407.2L736.4 1418.3M720.4 1406.5L739.9 1417.6M724.6 1405.7L743.2 1416.9M728.6 1405.0L746.5 1416.1M732.4 1404.3L749.6 1415.4M736.1 1403.5L752.8 1414.6M739.7 1402.7L755.9 1413.8M743.2 1401.9L758.9 1412.9M746.5 1401.1L761.9 1412.1M749.8 1400.2L764.8 1411.3M753.1 1399.4L767.7 1410.4M756.2 1398.5L770.6 1409.5M759.3 1397.7L773.4 1408.6M762.4 1396.8L776.2 1407.7M765.3 1395.9L778.9 1406.8M768.3 1394.9L781.7 1405.9M771.2 1394.0L784.4 1404.9M774.0 1393.0L787.0 1403.9M776.9 1392.1L789.7 1403.0M779.6 1391.1L792.3 1402.0M782.4 1390.1L794.9 1401.0M785.1 1389.1L797.5 1399.9M787.8 1388.1L800.1 1398.9M790.4 1387.0L802.6 1397.8M793.1 1386.0L805.1 1396.8M795.7 1384.9L807.6 1395.7M798.2 1383.8L810.1 1394.6M800.8 1382.7L812.6 1393.5M803.3 1381.6L815.0 1392.3M805.8 1380.5L817.5 1391.2M808.3 1379.4L819.9 1390.0M810.8 1378.2L822.3 1388.8M813.2 1377.0L824.7 1387.7M815.6 1375.9L827.0 1386.5M818.0 1374.7L829.4 1385.2M820.4 1373.5L831.7 1384.0M822.8 1372.2L834.1 1382.8M825.1 1371.0L836.4 1381.5M827.4 1369.7L838.7 1380.2M829.8 1368.5L841.0 1378.9M832.1 1367.2L843.2 1377.6M834.3 1365.9L845.5 1376.3M836.6 1364.6L847.7 1375.0M838.8 1363.3L850.0 1373.6M841.1 1362.0L852.2 1372.3M843.3 1360.6L854.4 1370.9M845.5 1359.2L856.6 1369.5M847.7 1357.9L858.8 1368.1M849.8 1356.5L860.9 1366.7M852.0 1355.1L863.1 1365.3M854.1 1353.7L865.2 1363.8M856.3 1352.2L867.4 1362.3M858.4 1350.8L869.5 1360.9M860.5 1349.4L871.6 1359.4M862.6 1347.9L873.7 1357.9M864.6 1346.4L875.8 1356.4M866.7 1344.9L877.8 1354.8M868.7 1343.4L879.9 1353.3M870.7 1341.9L881.9 1351.7M872.8 1340.4L884.0 1350.2M874.8 1338.8L886.0 1348.6M876.7 1337.2L888.0 1347.0M878.7 1335.7L890.0 1345.4M880.7 1334.1L892.0 1343.7M882.6 1332.5L893.9 1342.1M884.6 1330.9L895.9 1340.4M886.5 1329.3L897.8 1338.8M888.4 1327.6L899.7 1337.1M890.3 1326.0L901.7 1335.4M892.1 1324.3L903.6 1333.7M894.0 1322.7L905.5 1332.0M895.8 1321.0L907.3 1330.2M897.7 1319.3L909.2 1328.5M899.5 1317.6L911.1 1326.7M901.3 1315.8L912.9 1325.0M903.1 1314.1L914.7 1323.2M904.9 1312.4L916.5 1321.4M323.1 1098.6L308.7 1035.4M322.3 1087.8L310.0 1024.2M321.8 1069.2L310.4 1020.9M322.1 1054.9L310.7 1018.5M322.6 1045.6L311.3 1014.8M323.1 1038.3L311.9 1011.0M323.7 1032.1L312.5 1007.2M324.4 1026.6L313.2 1003.6M325.0 1021.6L313.9 1000.0M325.7 1016.9L314.6 996.5M326.4 1012.5L315.3 993.0M327.2 1008.3L316.0 989.7M327.9 1004.3L316.8 986.4M328.6 1000.5L317.5 983.3M329.4 996.8L318.3 980.1M330.2 993.2L319.1 977.0M331.0 989.7L320.0 974.0M331.8 986.4L320.8 971.0M332.7 983.1L321.6 968.1M333.5 979.8L322.5 965.2M334.4 976.7L323.4 962.3M335.2 973.6L324.3 959.5M336.1 970.5L325.2 956.7M337.0 967.6L326.1 954.0M338.0 964.6L327.0 951.2M338.9 961.7L328.0 948.5M339.9 958.9L329.0 945.9M340.8 956.0L329.9 943.2M341.8 953.3L330.9 940.6M342.8 950.5L331.9 938.0M343.8 947.8L333.0 935.4M344.8 945.1L334.0 932.8M345.9 942.5L335.1 930.3M346.9 939.8L336.1 927.8M348.0 937.2L337.2 925.3M349.1 934.7L338.3 922.8M350.2 932.1L339.4 920.3M351.3 929.6L340.6 917.9M352.4 927.1L341.7 915.4M353.5 924.6L342.9 913.0M354.7 922.1L344.1 910.6M355.9 919.7L345.2 908.2M357.0 917.3L346.4 905.9M358.2 914.9L347.7 903.5M359.4 912.5L348.9 901.2M360.7 910.1L350.1 898.8M361.9 907.8L351.4 896.5M363.2 905.5L352.7 894.2M364.4 903.1L354.0 891.9M365.7 900.8L355.3 889.7M367.0 898.6L356.6 887.4M368.3 896.3L357.9 885.2M369.6 894.1L359.3 882.9M370.9 891.8L360.6 880.7M372.3 889.6L362.0 878.5M373.7 887.4L363.4 876.3M375.0 885.2L364.8 874.1M376.4 883.1L366.2 872.0M377.8 880.9L367.6 869.8M379.2 878.8L369.1 867.7M380.7 876.6L370.6 865.5M382.1 874.5L372.0 863.4M383.5 872.4L373.5 861.3M385.0 870.3L375.0 859.2M386.5 868.3L376.5 857.1M388.0 866.2L378.1 855.1M389.5 864.2L379.6 853.0M391.0 862.2L381.2 851.0M392.5 860.1L382.7 848.9M394.1 858.1L384.3 846.9M395.7 856.2L385.9 844.9M397.2 854.2L387.5 842.9M398.8 852.2L389.2 840.9M400.4 850.3L390.8 839.0M402.0 848.3L392.5 837.0M403.6 846.4L394.1 835.1M405.3 844.5L395.8 833.2M406.9 842.6L397.5 831.2M408.6 840.8L399.2 829.3M410.2 838.9L400.9 827.4M411.9 837.1L402.7 825.6M413.6 835.2L404.4 823.7M415.3 833.4L406.2 821.8M417.1 831.6L407.9 820.0M418.8 829.8L409.7 818.2M420.5 828.0L411.5 816.4M323.1 1038.6L308.7 1101.8M322.3 1049.4L310.0 1113.0M321.8 1068.0L310.4 1116.3M322.1 1082.3L310.7 1118.7M322.6 1091.6L311.3 1122.4M323.1 1098.9L311.9 1126.2M323.7 1105.1L312.5 1130.0M324.4 1110.6L313.2 1133.6M325.0 1115.6L313.9 1137.2M325.7 1120.3L314.6 1140.7M326.4 1124.7L315.3 1144.2M327.2 1128.9L316.0 1147.5M327.9 1132.9L316.8 1150.8M328.6 1136.7L317.5 1153.9M329.4 1140.4L318.3 1157.1M330.2 1144.0L319.1 1160.2M331.0 1147.5L320.0 1163.2M331.8 1150.8L320.8 1166.2M332.7 1154.1L321.6 1169.1M333.5 1157.4L322.5 1172.0M334.4 1160.5L323.4 1174.9M335.2 1163.6L324.3 1177.7M336.1 1166.7L325.2 1180.5M337.0 1169.6L326.1 1183.2M338.0 1172.6L327.0 1186.0M338.9 1175.5L328.0 1188.7M339.9 1178.3L329.0 1191.3M340.8 1181.2L329.9 1194.0M341.8 1183.9L330.9 1196.6M342.8 1186.7L331.9 1199.2M343.8 1189.4L333.0 1201.8M344.8 1192.1L334.0 1204.4M345.9 1194.7L335.1 1206.9M346.9 1197.4L336.1 1209.4M348.0 1200.0L337.2 1211.9M349.1 1202.5L338.3 1214.4M350.2 1205.1L339.4 1216.9M351.3 1207.6L340.6 1219.3M352.4 1210.1L341.7 1221.8M353.5 1212.6L342.9 1224.2M354.7 1215.1L344.1 1226.6M355.9 1217.5L345.2 1229.0M357.0 1219.9L346.4 1231.3M358.2 1222.3L347.7 1233.7M359.4 1224.7L348.9 1236.0M360.7 1227.1L350.1 1238.4M361.9 1229.4L351.4 1240.7M363.2 1231.7L352.7 1243.0M364.4 1234.1L354.0 1245.3M365.7 1236.4L355.3 1247.5M367.0 1238.6L356.6 1249.8M368.3 1240.9L357.9 1252.0M369.6 1243.1L359.3 1254.3M370.9 1245.4L360.6 1256.5M372.3 1247.6L362.0 1258.7M373.7 1249.8L363.4 1260.9M375.0 1252.0L364.8 1263.1M376.4 1254.1L366.2 1265.2M377.8 1256.3L367.6 1267.4M379.2 1258.4L369.1 1269.5M380.7 1260.6L370.6 1271.7M382.1 1262.7L372.0 1273.8M383.5 1264.8L373.5 1275.9M385.0 1266.9L375.0 1278.0M386.5 1268.9L376.5 1280.1M388.0 1271.0L378.1 1282.1M389.5 1273.0L379.6 1284.2M391.0 1275.0L381.2 1286.2M392.5 1277.1L382.7 1288.3M394.1 1279.1L384.3 1290.3M395.7 1281.0L385.9 1292.3M397.2 1283.0L387.5 1294.3M398.8 1285.0L389.2 1296.3M400.4 1286.9L390.8 1298.2M402.0 1288.9L392.5 1300.2M403.6 1290.8L394.1 1302.1M405.3 1292.7L395.8 1304.0M406.9 1294.6L397.5 1306.0M408.6 1296.4L399.2 1307.9M410.2 1298.3L400.9 1309.8M411.9 1300.1L402.7 1311.6M413.6 1302.0L404.4 1313.5M415.3 1303.8L406.2 1315.4M417.1 1305.6L407.9 1317.2M418.8 1307.4L409.7 1319.0M420.5 1309.2L411.5 1320.8M634.3 727.4L697.5 713.0M645.1 726.6L708.7 714.3M663.7 726.1L712.0 714.7M678.0 726.4L714.4 715.0M687.3 726.9L718.1 715.6M694.6 727.4L721.9 716.2M700.8 728.0L725.7 716.8M706.3 728.7L729.3 717.5M711.3 729.3L732.9 718.2M716.0 730.0L736.4 718.9M720.4 730.7L739.9 719.6M724.6 731.5L743.2 720.3M728.6 732.2L746.5 721.1M732.4 732.9L749.6 721.8M736.1 733.7L752.8 722.6M739.7 734.5L755.9 723.4M743.2 735.3L758.9 724.3M746.5 736.1L761.9 725.1M749.8 737.0L764.8 725.9M753.1 737.8L767.7 726.8M756.2 738.7L770.6 727.7M759.3 739.5L773.4 728.6M762.4 740.4L776.2 729.5M765.3 741.3L778.9 730.4M768.3 742.3L781.7 731.3M771.2 743.2L784.4 732.3M774.0 744.2L787.0 733.3M776.9 745.1L789.7 734.2M779.6 746.1L792.3 735.2M782.4 747.1L794.9 736.2M785.1 748.1L797.5 737.3M787.8 749.1L800.1 738.3M790.4 750.2L802.6 739.4M793.1 751.2L805.1 740.4M795.7 752.3L807.6 741.5M798.2 753.4L810.1 742.6M800.8 754.5L812.6 743.7M803.3 755.6L815.0 744.9M805.8 756.7L817.5 746.0M808.3 757.8L819.9 747.2M810.8 759.0L822.3 748.4M813.2 760.2L824.7 749.5M815.6 761.3L827.0 750.7M818.0 762.5L829.4 752.0M820.4 763.7L831.7 753.2M822.8 765.0L834.1 754.4M825.1 766.2L836.4 755.7M827.4 767.5L838.7 757.0M829.8 768.7L841.0 758.3M832.1 770.0L843.2 759.6M834.3 771.3L845.5 760.9M836.6 772.6L847.7 762.2M838.8 773.9L850.0 763.6M841.1 775.2L852.2 764.9M843.3 776.6L854.4 766.3M845.5 778.0L856.6 767.7M847.7 779.3L858.8 769.1M849.8 780.7L860.9 770.5M852.0 782.1L863.1 771.9M854.1 783.5L865.2 773.4M856.3 785.0L867.4 774.9M858.4 786.4L869.5 776.3M860.5 787.8L871.6 777.8M862.6 789.3L873.7 779.3M864.6 790.8L875.8 780.8M866.7 792.3L877.8 782.4M868.7 793.8L879.9 783.9M870.7 795.3L881.9 785.5M872.8 796.8L884.0 787.0M874.8 798.4L886.0 788.6M876.7 800.0L888.0 790.2M878.7 801.5L890.0 791.8M880.7 803.1L892.0 793.5M882.6 804.7L893.9 795.1M884.6 806.3L895.9 796.8M886.5 807.9L897.8 798.4M888.4 809.6L899.7 800.1M890.3 811.2L901.7 801.8M892.1 812.9L903.6 803.5M894.0 814.5L905.5 805.2M895.8 816.2L907.3 807.0M897.7 817.9L909.2 808.7M899.5 819.6L911.1 810.5M901.3 821.4L912.9 812.2M903.1 823.1L914.7 814.0M904.9 824.8L916.5 815.8M694.3 727.4L631.1 713.0M683.5 726.6L619.9 714.3M664.9 726.1L616.6 714.7M650.6 726.4L614.2 715.0M641.3 726.9L610.5 715.6M634.0 727.4L606.7 716.2M627.8 728.0L602.9 716.8M622.3 728.7L599.3 717.5M617.3 729.3L595.7 718.2M612.6 730.0L592.2 718.9M608.2 730.7L588.7 719.6M604.0 731.5L585.4 720.3M600.0 732.2L582.1 721.1M596.2 732.9L579.0 721.8M592.5 733.7L575.8 722.6M588.9 734.5L572.7 723.4M585.4 735.3L569.7 724.3M582.1 736.1L566.7 725.1M578.8 737.0L563.8 725.9M575.5 737.8L560.9 726.8M572.4 738.7L558.0 727.7M569.3 739.5L555.2 728.6M566.2 740.4L552.4 729.5M563.3 741.3L549.7 730.4M560.3 742.3L546.9 731.3M557.4 743.2L544.2 732.3M554.6 744.2L541.6 733.3M551.7 745.1L538.9 734.2M549.0 746.1L536.3 735.2M546.2 747.1L533.7 736.2M543.5 748.1L531.1 737.3M540.8 749.1L528.5 738.3M538.2 750.2L526.0 739.4M535.5 751.2L523.5 740.4M532.9 752.3L521.0 741.5M530.4 753.4L518.5 742.6M527.8 754.5L516.0 743.7M525.3 755.6L513.6 744.9M522.8 756.7L511.1 746.0M520.3 757.8L508.7 747.2M517.8 759.0L506.3 748.4M515.4 760.2L503.9 749.5M513.0 761.3L501.6 750.7M510.6 762.5L499.2 752.0M508.2 763.7L496.9 753.2M505.8 765.0L494.5 754.4M503.5 766.2L492.2 755.7M501.2 767.5L489.9 757.0M498.8 768.7L487.6 758.3M496.5 770.0L485.4 759.6M494.3 771.3L483.1 760.9M492.0 772.6L480.9 762.2M489.8 773.9L478.6 763.6M487.5 775.2L476.4 764.9M485.3 776.6L474.2 766.3M483.1 778.0L472.0 767.7M480.9 779.3L469.8 769.1M478.8 780.7L467.7 770.5M476.6 782.1L465.5 771.9M474.5 783.5L463.4 773.4M472.3 785.0L461.2 774.9M470.2 786.4L459.1 776.3M468.1 787.8L457.0 777.8M466.0 789.3L454.9 779.3M464.0 790.8L452.8 780.8M461.9 792.3L450.8 782.4M459.9 793.8L448.7 783.9M457.9 795.3L446.7 785.5M455.8 796.8L444.6 787.0M453.8 798.4L442.6 788.6M451.9 800.0L440.6 790.2M449.9 801.5L438.6 791.8M447.9 803.1L436.6 793.5M446.0 804.7L434.7 795.1M444.0 806.3L432.7 796.8M442.1 807.9L430.8 798.4M440.2 809.6L428.9 800.1M438.3 811.2L426.9 801.8M436.5 812.9L425.0 803.5M434.6 814.5L423.1 805.2M432.8 816.2L421.3 807.0M430.9 817.9L419.4 808.7M429.1 819.6L417.5 810.5M427.3 821.4L415.7 812.2M425.5 823.1L413.9 814.0M423.7 824.8L412.1 815.8" stroke="#2e2e2e" stroke-width="1.15" stroke-linecap="butt"/>
<circle cx="664.3" cy="1068.6" r="344" fill="none" stroke="#262626" stroke-width="2.0" />
<circle cx="664.3" cy="1068.6" r="355.6" fill="none" stroke="#262626" stroke-width="2.0" />
<circle cx="664.3" cy="1068.6" r="417" fill="none" stroke="#2c2c2c" stroke-width="2.0" />
<circle cx="664.3" cy="1068.6" r="386" fill="none" stroke="#2c2c2c" stroke-width="1.9" />
<circle cx="664.3" cy="1068.6" r="381" fill="none" stroke="#2c2c2c" stroke-width="1.9" />
<circle cx="664.3" cy="1068.6" r="368.6" fill="none" stroke="#2c2c2c" stroke-width="1.9" />
<circle cx="664.3" cy="1068.6" r="366" fill="none" stroke="#aaa" stroke-width="1.0" />
<circle cx="664.3" cy="1068.6" r="363" fill="none" stroke="#2c2c2c" stroke-width="1.9" />
<circle cx="664.3" cy="1068.6" r="328.8" fill="none" stroke="#2c2c2c" stroke-width="2.0" />
<circle cx="664.3" cy="1068.6" r="435" stroke="#444" stroke-width="1.8" stroke-dasharray="3.2 9.81 45.5 9.81" stroke-dashoffset="1.6"/>
<path d="M1133.3 1068.6A469.0 469.0 0 0 1 1047.78 1338.61L1038.78 1332.28Q1037.74 1332.03 1036.81 1333.33L1032.85 1338.83L1039.62 1347.34Q1040.33 1348.89 1038.86 1350.85A469.0 469.0 0 0 1 1007.94 1387.77Q1005.89 1389.97 1003.06 1387.14L981.93 1366.01A14.3 14.3 0 0 0 961.71 1386.23L982.84 1407.36Q985.67 1410.19 983.47 1412.24A469.0 469.0 0 0 1 946.55 1443.16Q944.59 1444.63 943.04 1443.92L934.53 1437.15L929.03 1441.11Q927.73 1442.04 927.98 1443.08L934.31 1452.08A469.0 469.0 0 0 1 664.3 1537.6A469.0 469.0 0 0 1 394.29 1452.08L400.62 1443.08Q400.87 1442.04 399.57 1441.11L394.07 1437.15L385.56 1443.92Q384.01 1444.63 382.05 1443.16A469.0 469.0 0 0 1 345.13 1412.24Q342.93 1410.19 345.76 1407.36L366.89 1386.23A14.3 14.3 0 0 0 346.67 1366.01L325.54 1387.14Q322.71 1389.97 320.66 1387.77A469.0 469.0 0 0 1 289.74 1350.85Q288.27 1348.89 288.98 1347.34L295.75 1338.83L291.79 1333.33Q290.86 1332.03 289.82 1332.28L280.82 1338.61A469.0 469.0 0 0 1 195.3 1068.6A469.0 469.0 0 0 1 280.82 798.59L289.82 804.92Q290.86 805.17 291.79 803.87L295.75 798.37L288.98 789.86Q288.27 788.31 289.74 786.35A469.0 469.0 0 0 1 320.66 749.43Q322.71 747.23 325.54 750.06L346.67 771.19A14.3 14.3 0 0 0 366.89 750.97L345.76 729.84Q342.93 727.01 345.13 724.96A469.0 469.0 0 0 1 382.05 694.04Q384.01 692.57 385.56 693.28L394.07 700.05L399.57 696.09Q400.87 695.16 400.62 694.12L394.29 685.12A469.0 469.0 0 0 1 664.3 599.6A469.0 469.0 0 0 1 934.31 685.12L927.98 694.12Q927.73 695.16 929.03 696.09L934.53 700.05L943.04 693.28Q944.59 692.57 946.55 694.04A469.0 469.0 0 0 1 983.47 724.96Q985.67 727.01 982.84 729.84L961.71 750.97A14.3 14.3 0 0 0 981.93 771.19L1003.06 750.06Q1005.89 747.23 1007.94 749.43A469.0 469.0 0 0 1 1038.86 786.35Q1040.33 788.31 1039.62 789.86L1032.85 798.37L1036.81 803.87Q1037.74 805.17 1038.78 804.92L1047.78 798.59A469.0 469.0 0 0 1 1133.3 1068.6Z" fill="none" stroke="#3a3a3a" stroke-width="1.8" stroke-linejoin="round"/>
<path d="M932.76 1449.87A466.3 466.3 0 0 1 395.84 1449.87" stroke="#2e2e2e" stroke-width="6.6"/>
<path d="M932.76 1449.87A466.3 466.3 0 0 1 395.84 1449.87" stroke="#d8d8d8" stroke-width="2.4" stroke-dasharray="0 1.2 10000"/>
<path d="M283.03 1337.06A466.3 466.3 0 0 1 283.03 800.14" stroke="#2e2e2e" stroke-width="6.6"/>
<path d="M283.03 1337.06A466.3 466.3 0 0 1 283.03 800.14" stroke="#d8d8d8" stroke-width="2.4" stroke-dasharray="0 1.2 10000"/>
<path d="M395.84 687.33A466.3 466.3 0 0 1 932.76 687.33" stroke="#2e2e2e" stroke-width="6.6"/>
<path d="M395.84 687.33A466.3 466.3 0 0 1 932.76 687.33" stroke="#d8d8d8" stroke-width="2.4" stroke-dasharray="0 1.2 10000"/>
<path d="M1045.57 800.14A466.3 466.3 0 0 1 1045.57 1337.06" stroke="#2e2e2e" stroke-width="6.6"/>
<path d="M1045.57 800.14A466.3 466.3 0 0 1 1045.57 1337.06" stroke="#d8d8d8" stroke-width="2.4" stroke-dasharray="0 1.2 10000"/>
<circle cx="664.3" cy="1068.6" r="92.2" fill="url(#mesh)" stroke="none"/>
<circle cx="664.3" cy="1068.6" r="84.4" stroke="#333" stroke-opacity="0.16" stroke-width="15.6"/>
<circle cx="664.3" cy="1068.6" r="76.5" fill="none" stroke="#3a3a3a" stroke-width="1.2" />
<circle cx="664.3" cy="1068.6" r="92.2" fill="none" stroke="#151515" stroke-width="2.8" />
<circle cx="664.3" cy="1068.6" r="104.8" fill="none" stroke="#151515" stroke-width="2.1" />
<circle cx="664.3" cy="1068.6" r="111.8" fill="none" stroke="#151515" stroke-width="2.4" />
<circle cx="664.3" cy="1068.6" r="122.2" fill="none" stroke="#333" stroke-width="1.2" />
</g>
<g id="front-dims">
<path d="M258.6 562.1H381.6L873.3 1449.3" fill="none" stroke="#2a2a2a" stroke-width="1.6" />
<polygon points="875.16,1449.07 866.74,1439.45 871.47,1436.83" fill="#111"/>
<polygon points="453.44,688.13 461.86,697.75 457.13,700.37" fill="#111"/>
<line x1="367.05" y1="751.6" x2="253.4" y2="639" stroke="#111" stroke-width="1.5" />
<line x1="346.5" y1="771.8" x2="233.1" y2="660.2" stroke="#111" stroke-width="1.5" />
<path d="M91.4 700.6H192.6L266.6 627.6" fill="none" stroke="#2a2a2a" stroke-width="1.6" />
<polygon points="233.1,660.2 226.74,670.1 223.2,666.56" fill="#111"/>
<polygon points="253.4,639 259.76,629.1 263.3,632.64" fill="#111"/>
<line x1="151.1" y1="760.5" x2="151.1" y2="1377" stroke="#3c3c3c" stroke-width="1.5" />
<line x1="147.8" y1="761.9" x2="357" y2="761.9" stroke="#878787" stroke-width="3.0" />
<line x1="148" y1="1377" x2="357.8" y2="1377" stroke="#3c3c3c" stroke-width="1.5" />
<polygon points="151.1,760.5 153.8,773 148.4,773" fill="#222"/>
<polygon points="151.1,1377 148.4,1364.5 153.8,1364.5" fill="#222"/>
<line x1="356.4" y1="1583.4" x2="972" y2="1583.4" stroke="#3c3c3c" stroke-width="1.5" />
<line x1="357.1" y1="1381" x2="357.1" y2="1587" stroke="#3c3c3c" stroke-width="1.5" />
<line x1="971.1" y1="1381" x2="971.1" y2="1587" stroke="#3c3c3c" stroke-width="1.5" />
<polygon points="356.6,1583.4 369.1,1580.7 369.1,1586.1" fill="#222"/>
<polygon points="971.8,1583.4 959.3,1586.1 959.3,1580.7" fill="#222"/>
</g>
<g id="front-labels">
<text text-anchor="middle" fill="#111"><tspan x="269.2" y="555.6" font-family="'IPAGothic', 'Liberation Sans', sans-serif" font-size="36">φ</tspan><tspan x="293.8" y="556.6" font-family="'IPAGothic', 'Liberation Sans', sans-serif" font-size="32">1</tspan><tspan x="312.1" y="555.2" font-family="'Liberation Sans', 'Liberation Sans', sans-serif" font-size="33">5</tspan><tspan x="330.4" y="555.2" font-family="'Liberation Sans', 'Liberation Sans', sans-serif" font-size="33">3</tspan><tspan x="350.2" y="555.2" font-family="'Liberation Sans', 'Liberation Sans', sans-serif" font-size="28">M</tspan><tspan x="373.5" y="555.2" font-family="'Liberation Sans', 'Liberation Sans', sans-serif" font-size="28">M</tspan></text>
<text text-anchor="middle" fill="#111"><tspan x="283.26" y="598.9" font-family="'IPAGothic', 'Liberation Sans', sans-serif" font-size="36">（</tspan><tspan x="311.1" y="597.6" font-family="'Liberation Sans', 'Liberation Sans', sans-serif" font-size="33">6</tspan><tspan x="338.23" y="597.6" font-family="'IPAGothic', 'Liberation Sans', sans-serif" font-size="34">″</tspan><tspan x="355.14" y="598.9" font-family="'IPAGothic', 'Liberation Sans', sans-serif" font-size="36">）</tspan></text>
<text text-anchor="middle" fill="#111"><tspan x="102.1" y="692.6" font-family="'Liberation Sans', 'Liberation Sans', sans-serif" font-size="33">4</tspan><tspan x="120.1" y="692.2" font-family="'Liberation Sans', 'Liberation Sans', sans-serif" font-size="33">−</tspan><tspan x="138.6" y="692.6" font-family="'Liberation Sans', 'Liberation Sans', sans-serif" font-size="33">5</tspan><tspan x="159.3" y="692.6" font-family="'Liberation Sans', 'Liberation Sans', sans-serif" font-size="28">M</tspan><tspan x="182.8" y="692.6" font-family="'Liberation Sans', 'Liberation Sans', sans-serif" font-size="28">M</tspan></text>
<text text-anchor="middle" fill="#111"><tspan x="89.66" y="734.5" font-family="'IPAGothic', 'Liberation Sans', sans-serif" font-size="36">（</tspan><tspan x="116.4" y="734.6" font-family="'IPAGothic', 'Liberation Sans', sans-serif" font-size="32">1</tspan><tspan x="134.3" y="733.7" font-family="'IPAGothic', 'Liberation Sans', sans-serif" font-size="33">/</tspan><tspan x="152.5" y="733.2" font-family="'Liberation Sans', 'Liberation Sans', sans-serif" font-size="33">4</tspan><tspan x="179.83" y="733.2" font-family="'IPAGothic', 'Liberation Sans', sans-serif" font-size="34">″</tspan><tspan x="197.74" y="734.5" font-family="'IPAGothic', 'Liberation Sans', sans-serif" font-size="36">）</tspan></text>
</g>
<g id="side-view" fill="none" stroke-linejoin="round">
<path d="M1236.6 1008.5Q1214.2 1036 1214.2 1071.1Q1214.2 1106.2 1236.6 1133.7Z" fill="#484848" stroke="#111" stroke-width="1.6"/>
<path d="M1236.6 1008.5Q1214.2 1036 1214.2 1071.1Q1214.2 1106.2 1236.6 1133.7Z" fill="none" stroke="#d0d0d0" stroke-width="0" />
<path d="M1220.79 1050.28h1.3M1218.82 1088.94h1.3M1223.01 1075.34h1.3M1233.43 1018.86h1.3M1233.96 1016.43h1.3M1230.93 1020.26h1.3M1232.15 1062.18h1.3M1228.9 1026.63h1.3M1234.53 1086.16h1.3M1223.84 1080.21h1.3M1233.89 1127.39h1.3M1228.72 1113.47h1.3M1226.95 1029.05h1.3M1232.4 1048.46h1.3M1230.62 1033.36h1.3M1224.04 1087.52h1.3M1217.11 1076.74h1.3M1232.08 1019.04h1.3M1225.65 1092.42h1.3M1228.44 1049.13h1.3M1221.76 1065.57h1.3M1231.62 1105.9h1.3M1229.3 1040.85h1.3M1233.03 1074.08h1.3M1224.39 1098.22h1.3M1234.28 1127.86h1.3M1230.82 1061.42h1.3M1230.32 1029.96h1.3M1234.56 1016.63h1.3M1229.43 1102.37h1.3M1229.64 1115.48h1.3M1228.7 1094.18h1.3M1225.01 1080.54h1.3M1234.92 1111.28h1.3M1228.87 1068.04h1.3M1234.19 1019.17h1.3M1235.38 1088.49h1.3M1227.26 1109.15h1.3M1229.28 1057.6h1.3M1234.64 1014.67h1.3M1225.79 1031.86h1.3M1234.51 1018.97h1.3M1228.86 1027.29h1.3M1233.08 1058.21h1.3M1232.33 1021.52h1.3M1233.21 1076.94h1.3M1233.91 1108.84h1.3M1226.22 1044.91h1.3M1233.39 1054.41h1.3M1232.9 1125.2h1.3M1226.72 1032.83h1.3M1228.23 1039.58h1.3M1221.37 1081.63h1.3M1223.34 1061.52h1.3M1234.59 1078.94h1.3M1227.31 1093.62h1.3M1229.45 1085h1.3M1235.11 1018.38h1.3M1233.8 1104.19h1.3M1227.77 1106.31h1.3M1218.48 1059.16h1.3M1218.28 1086.97h1.3M1231.66 1019.96h1.3M1228.44 1031.18h1.3M1231.69 1018.21h1.3M1226.44 1029.88h1.3M1217.65 1054.98h1.3M1232.18 1115.35h1.3M1228.07 1029.56h1.3M1224.09 1053.06h1.3M1234.23 1026.52h1.3M1225.33 1067.08h1.3M1230.02 1022.15h1.3M1222.4 1052.5h1.3M1226.14 1109.97h1.3M1235.42 1014.73h1.3M1218.66 1074.44h1.3M1216.38 1076.2h1.3M1235.08 1074.42h1.3M1232.69 1114.05h1.3M1225.85 1042.86h1.3M1233 1031.74h1.3M1231.14 1074.95h1.3M1221.92 1050.97h1.3M1235.32 1107.92h1.3M1233.59 1112.78h1.3M1232.45 1108.73h1.3M1228.83 1038.8h1.3M1217.89 1054.03h1.3M1234.06 1015.3h1.3M1230.84 1042.63h1.3M1233.76 1125.06h1.3M1235.45 1122.76h1.3M1233.42 1124.88h1.3M1225.02 1038.06h1.3M1225.59 1035.25h1.3M1233.65 1085.76h1.3M1230.01 1111.34h1.3M1231.91 1089.18h1.3M1233.45 1022.02h1.3M1234.11 1119.54h1.3M1227.77 1100.67h1.3M1233.07 1033.1h1.3M1232 1051.3h1.3M1234.27 1126.85h1.3M1234.49 1059.44h1.3M1222.42 1097.67h1.3M1228.12 1027.02h1.3M1234.2 1118.95h1.3M1233.8 1029.28h1.3M1235.03 1127.87h1.3M1227.37 1053.42h1.3M1226.7 1027.48h1.3M1234.77 1126.76h1.3M1234.19 1074.24h1.3M1233.01 1063.28h1.3M1226.58 1109.65h1.3M1224.98 1041.77h1.3M1229.53 1040.43h1.3M1226.68 1042.66h1.3M1234.7 1027.49h1.3M1225.7 1053.82h1.3M1233.66 1080.95h1.3M1233.91 1061.72h1.3M1226.23 1071.29h1.3M1216.11 1073.88h1.3M1219.56 1064.02h1.3M1225.03 1106.46h1.3M1230.07 1067.97h1.3M1222.33 1077.78h1.3M1226.71 1073.27h1.3M1223.57 1104.7h1.3M1220.84 1078.23h1.3M1231.9 1044.73h1.3M1226.82 1072.01h1.3M1234.24 1101.83h1.3M1227.93 1064.39h1.3M1225.84 1071.76h1.3M1226.28 1093.88h1.3M1225.21 1075.03h1.3M1234.23 1123.29h1.3M1235.01 1115.61h1.3M1228.81 1042.68h1.3M1234.84 1123.49h1.3M1227.34 1028.21h1.3M1217.38 1064.26h1.3M1222.13 1040.44h1.3M1231.72 1091.13h1.3M1229.4 1118.03h1.3M1230.04 1096.65h1.3M1234.37 1028.9h1.3M1233.67 1126.36h1.3M1233.43 1124.59h1.3M1235.3 1069.59h1.3M1226.3 1110.39h1.3M1226.09 1063.01h1.3M1221.24 1052.08h1.3M1230.73 1049.65h1.3M1234.89 1014.3h1.3M1216.34 1064.06h1.3M1228.91 1051.18h1.3M1216.98 1072.55h1.3M1235.29 1128.44h1.3M1233.68 1126.85h1.3M1220.7 1043.39h1.3M1225.59 1104.08h1.3M1230.39 1027.31h1.3M1234.36 1119.73h1.3M1222.62 1042.57h1.3M1233.02 1120.65h1.3M1220.39 1094.79h1.3M1234.2 1018.8h1.3M1217.55 1062.27h1.3M1233.87 1122.91h1.3M1224.02 1106.75h1.3M1226.48 1113.21h1.3M1230.43 1113.98h1.3M1227.57 1052.09h1.3M1231.65 1121.53h1.3M1231.33 1027.27h1.3M1222.73 1040.18h1.3M1225.39 1031.08h1.3M1226.76 1035.85h1.3M1231.47 1048.05h1.3M1227.36 1046.27h1.3M1227.98 1033.03h1.3M1234.56 1014.15h1.3M1235.22 1013.81h1.3M1219.62 1077.13h1.3M1234.21 1068.12h1.3M1234.16 1024.56h1.3M1225.69 1063.08h1.3M1228.91 1110.65h1.3M1229.32 1071.89h1.3M1234.7 1128.12h1.3M1232.28 1110.38h1.3M1224.59 1087.17h1.3M1218.53 1053.08h1.3M1227.27 1027.34h1.3M1224.21 1099.57h1.3M1225.66 1031.3h1.3M1234.14 1111.44h1.3M1222.95 1091.26h1.3M1225.25 1040.63h1.3M1218.93 1066.31h1.3M1221.08 1064.7h1.3M1235.42 1125.68h1.3M1220.67 1076.66h1.3M1233.79 1126.14h1.3M1217.36 1054.15h1.3M1225.69 1057.11h1.3M1219.68 1071.43h1.3M1215.8 1071.66h1.3M1221.52 1043.22h1.3M1217.3 1059.22h1.3M1234.39 1014.66h1.3M1229.66 1039.52h1.3M1230.58 1074.55h1.3M1230.44 1089.72h1.3M1230.42 1115.91h1.3M1235.23 1050.55h1.3M1232.75 1029.67h1.3M1218.13 1088.03h1.3M1234.33 1110.73h1.3M1230.57 1086.15h1.3M1225.16 1108h1.3M1225.71 1073.91h1.3M1233.38 1110.69h1.3M1230.8 1109.68h1.3M1233.13 1117.53h1.3M1222.55 1093.95h1.3M1233.55 1015.68h1.3M1219.16 1054.64h1.3M1230.73 1110.79h1.3M1228.59 1086.2h1.3M1226.72 1092.45h1.3M1232.3 1106.29h1.3M1226.3 1071.45h1.3M1218.9 1089.93h1.3M1224.04 1099.09h1.3M1231.58 1020.8h1.3M1223.1 1098.21h1.3M1235.13 1099.45h1.3M1223.28 1070.38h1.3M1229.25 1068.62h1.3M1230.1 1102.66h1.3M1218.74 1087.97h1.3M1228.13 1029.43h1.3M1225.01 1099.85h1.3M1216.31 1079.11h1.3M1232.29 1019.17h1.3M1230.13 1091.43h1.3M1223.21 1091.87h1.3M1224.91 1073.05h1.3M1218.13 1067.12h1.3M1229.56 1117.63h1.3" stroke="#cfcfcf" stroke-width="1.2"/>
<path d="M1256.1 954.1L1237.5 959.8Q1235.1 960.5 1235.1 963V1179.2Q1235.1 1181.7 1237.5 1182.4L1256.1 1188.1" fill="none" stroke="#1a1a1a" stroke-width="2.0" />
<line x1="1237.3" y1="1008" x2="1237.3" y2="1134.2" stroke="#1a1a1a" stroke-width="1.6" />
<rect x="1254" y="696.4" width="6.4" height="749.4" fill="#a9a9a9" stroke="none"/>
<line x1="1254" y1="696.4" x2="1254" y2="1445.8" stroke="#8a8a8a" stroke-width="1.0" />
<line x1="1260.4" y1="696.4" x2="1260.4" y2="1445.8" stroke="#111" stroke-width="2.0" />
<path d="M1254 696.4L1260.4 692.3V1449.9L1254 1445.8Z" fill="#a9a9a9" stroke="none"/>
<line x1="1260.4" y1="684" x2="1260.4" y2="1458.2" stroke="#111" stroke-width="2.0" />
<line x1="1264.8" y1="679.3" x2="1264.8" y2="1462.9" stroke="#9a9a9a" stroke-width="1.6" />
<line x1="1273" y1="676.2" x2="1273" y2="1466" stroke="#0a0a0a" stroke-width="2.6" />
<rect x="1275.7" y="670.4" width="7.5" height="801.4" fill="#cfcfcf" stroke="none"/>
<line x1="1275.7" y1="670.4" x2="1275.7" y2="1471.8" stroke="#8a8a8a" stroke-width="1.0" />
<line x1="1283.2" y1="670.4" x2="1283.2" y2="1471.8" stroke="#444" stroke-width="1.5" />
<line x1="1279.4" y1="670" x2="1279.4" y2="1472.2" stroke="#a5a5a5" stroke-width="1.0" />
<line x1="1293.3" y1="660.7" x2="1293.3" y2="1481.5" stroke="#777" stroke-width="1.5" />
<path d="M1260.4 684Q1260.8 680 1264.3 679L1271.6 676.5Q1273.5 672 1277.5 670.6L1282.3 669.8L1281.5 665.2Q1281.6 662.8 1284 662.8L1291.8 663.3Q1293.5 658 1296.9 656.6L1300.6 656" fill="none" stroke="#1a1a1a" stroke-width="1.7" />
<path d="M1260.4 1458.2Q1260.8 1462.2 1264.3 1463.2L1271.6 1465.7Q1273.5 1470.2 1277.5 1471.6L1282.3 1472.4L1281.5 1477Q1281.6 1479.4 1284 1479.4L1291.8 1478.9Q1293.5 1484.2 1296.9 1485.6L1300.6 1486.2" fill="none" stroke="#1a1a1a" stroke-width="1.7" />
<line x1="1301" y1="602.2" x2="1301" y2="656" stroke="#555" stroke-width="1.6" />
<line x1="1301" y1="1540" x2="1301" y2="1486.2" stroke="#555" stroke-width="1.6" />
<line x1="1301" y1="656" x2="1301" y2="691" stroke="#111" stroke-width="2.2" />
<line x1="1301" y1="1486.2" x2="1301" y2="1451.2" stroke="#111" stroke-width="2.2" />
<line x1="1300" y1="691" x2="1300" y2="1451.2" stroke="#777" stroke-width="1.4" />
<line x1="1301.3" y1="802.2" x2="1301.3" y2="1340" stroke="#161616" stroke-width="1.8" />
<line x1="1318" y1="602.2" x2="1318" y2="1540" stroke="#8a8a8a" stroke-width="1.4" />
<line x1="1324.2" y1="602.2" x2="1324.2" y2="1540" stroke="#6a6a6a" stroke-width="1.8" />
<rect x="1318" y="691" width="6.6" height="111.2" fill="#d6d6d6" stroke="none"/>
<line x1="1320.2" y1="691" x2="1320.2" y2="802.2" stroke="#a8a8a8" stroke-width="1.0" />
<rect x="1318" y="1340" width="6.6" height="111.2" fill="#d6d6d6" stroke="none"/>
<line x1="1320.2" y1="1340" x2="1320.2" y2="1451.2" stroke="#a8a8a8" stroke-width="1.0" />
<circle cx="1322.7" cy="695" r="1.5" fill="#111"/>
<circle cx="1322.7" cy="1447.2" r="1.5" fill="#111"/>
<circle cx="1322.7" cy="727" r="1.0" fill="#111"/>
<circle cx="1322.7" cy="1415.2" r="1.0" fill="#111"/>
<circle cx="1322.7" cy="735.5" r="1.2" fill="#111"/>
<circle cx="1322.7" cy="1406.7" r="1.2" fill="#111"/>
<circle cx="1322.7" cy="754" r="1.2" fill="#111"/>
<circle cx="1322.7" cy="1388.2" r="1.2" fill="#111"/>
<circle cx="1322.7" cy="790" r="1.0" fill="#111"/>
<circle cx="1322.7" cy="1352.2" r="1.0" fill="#111"/>
<circle cx="1322.7" cy="796" r="1.0" fill="#111"/>
<circle cx="1322.7" cy="1346.2" r="1.0" fill="#111"/>
<path d="M1301 687.6H1316Q1320.5 688 1323 692.5" fill="none" stroke="#777" stroke-width="1.3" />
<path d="M1301 691H1315.5Q1320 691.5 1322.6 696" fill="none" stroke="#222" stroke-width="1.6" />
<path d="M1300 802.2H1318.5" fill="none" stroke="#333" stroke-width="1.5" />
<path d="M1300 799.5H1318.5" fill="none" stroke="#aaa" stroke-width="1.0" />
<path d="M1301 1454.6H1316Q1320.5 1454.2 1323 1449.7" fill="none" stroke="#777" stroke-width="1.3" />
<path d="M1301 1451.2H1315.5Q1320 1450.7 1322.6 1446.2" fill="none" stroke="#222" stroke-width="1.6" />
<path d="M1300 1340H1318.5" fill="none" stroke="#333" stroke-width="1.5" />
<path d="M1300 1342.7H1318.5" fill="none" stroke="#aaa" stroke-width="1.0" />
<line x1="1327.7" y1="708" x2="1327.7" y2="1434.2" stroke="#666" stroke-width="1.5" />
<rect x="1338.5" y="707.8" width="4.7" height="726.6" fill="#c4c4c4" stroke="none"/>
<line x1="1338.5" y1="707.8" x2="1338.5" y2="1434.4" stroke="#777" stroke-width="1.3" />
<line x1="1343.2" y1="707.8" x2="1343.2" y2="1434.4" stroke="#666" stroke-width="1.3" />
<path d="M1326.8 706L1328.3 708.4L1340.7 707.8Q1350.2 708.5 1350.2 716V764.5Q1351 774 1366.4 780.3L1413.6 801.8Q1423.5 805.5 1425.6 798V762.5Q1425.6 760.6 1427.5 761.8L1442.6 771.2Q1446.7 773.5 1446.7 777.5" fill="none" stroke="#2a2a2a" stroke-width="2.0" />
<path d="M1326.8 1436.2L1328.3 1433.8L1340.7 1434.4Q1350.2 1433.7 1350.2 1426.2V1377.7Q1351 1368.2 1366.4 1361.9L1408 1341.5Q1419 1336.5 1423.5 1340.5Q1425.8 1343 1425.8 1350.5" fill="none" stroke="#2a2a2a" stroke-width="2.0" />
<line x1="1428.6" y1="1349.5" x2="1445.7" y2="1338.1" stroke="#2a2a2a" stroke-width="1.5" />
<rect x="1443.4" y="774" width="5.2" height="564.1" fill="#8c8c8c" stroke="none"/>
<line x1="1443.4" y1="774" x2="1443.4" y2="1338.1" stroke="#b5b5b5" stroke-width="1.0" />
<line x1="1448.6" y1="774" x2="1448.6" y2="1338.1" stroke="#111" stroke-width="2.0" />
<line x1="1448.3" y1="1338" x2="1448.3" y2="1358.6" stroke="#111" stroke-width="2.0" />
<path d="M1448.4 784.4L1457.5 788.1Q1461.4 789.5 1461.4 794" fill="none" stroke="#2a2a2a" stroke-width="1.6" />
<rect x="1457.1" y="790" width="4.1" height="563" fill="#d2d2d2" stroke="none"/>
<line x1="1457.1" y1="790" x2="1457.1" y2="1353" stroke="#8a8a8a" stroke-width="1.2" />
<line x1="1461.2" y1="790" x2="1461.2" y2="1353" stroke="#111" stroke-width="2.0" />
<line x1="1461.6" y1="818.8" x2="1514.7" y2="843.1" stroke="#2a2a2a" stroke-width="1.9" />
<line x1="1461.6" y1="1323.4" x2="1514.7" y2="1299.1" stroke="#2a2a2a" stroke-width="1.9" />
<rect x="1510.6" y="842.5" width="8.4" height="457.2" fill="#b3b3b3" stroke="none"/>
<line x1="1510.6" y1="842.5" x2="1510.6" y2="1299.7" stroke="#777" stroke-width="1.2" />
<line x1="1519" y1="842.5" x2="1519" y2="1299.7" stroke="#555" stroke-width="1.4" />
<path d="M1513.8 842.5V838Q1514 832.2 1519.5 832.2H1540V1310H1519.5Q1514 1310 1513.8 1304.2V1299.7" fill="none" stroke="#2a2a2a" stroke-width="1.9" />
<rect x="1540.4" y="814.7" width="86.9" height="512.8" fill="none" stroke="#333" stroke-width="1.9"/>
<line x1="1540.4" y1="832" x2="1540.4" y2="1310.2" stroke="#111" stroke-width="2.2" />
<path d="M1627.3 838Q1627.5 832.2 1633 832.2H1647Q1652.9 832.4 1652.9 838V1304.2Q1652.9 1309.8 1647 1310H1633Q1627.5 1310 1627.3 1304.2" fill="none" stroke="#333" stroke-width="1.9" />
<path d="M1632.9 838Q1633 834 1636 833.5M1632.9 838V1304.2Q1633 1308.2 1636 1308.7" fill="none" stroke="#555" stroke-width="1.2" />
<path d="M1646.7 838Q1646.5 834 1644 833.5M1646.7 838V1304.2Q1646.5 1308.2 1644 1308.7" fill="none" stroke="#555" stroke-width="1.2" />
<path d="M1348.6 887Q1349 876.5 1358.6 875.7Q1362 875.6 1366.3 878.8L1409.8 897.5Q1426.1 905 1426.1 919.5V1222.7Q1426.1 1237.2 1409.8 1244.7L1366.3 1263.4Q1362 1266.6 1358.6 1266.5Q1349 1265.7 1348.6 1255.2Z" fill="none" stroke="#262626" stroke-width="2.0" />
<line x1="1351.8" y1="884" x2="1351.8" y2="1258.2" stroke="#777" stroke-width="1.2" />
<path d="M1353.9 883.5Q1384 936 1419.1 965.8V1176.4Q1384 1206.2 1353.9 1258.7" fill="none" stroke="#2c2c2c" stroke-width="1.7" />
<line x1="1419.1" y1="965.8" x2="1426.1" y2="968" stroke="#333" stroke-width="1.3" />
<line x1="1419.1" y1="1176.4" x2="1426.1" y2="1174.2" stroke="#333" stroke-width="1.3" />
<path d="M1366.8 877.2L1409 895.4" fill="none" stroke="#777" stroke-width="2.4" />
<path d="M1366.8 1265L1409 1246.8" fill="none" stroke="#777" stroke-width="2.4" />
<g id="terminal" stroke-linejoin="round">
<line x1="1443.4" y1="1342" x2="1443.4" y2="1364.9" stroke="#444" stroke-width="1.2" />
<path d="M1426.3 1352H1436V1422Q1436 1426.4 1431.5 1426.4Q1426.3 1426.4 1426.3 1422Z" fill="none" stroke="#1e1e1e" stroke-width="1.5" />
<line x1="1428" y1="1353" x2="1428" y2="1424" stroke="#555" stroke-width="1.0" />
<line x1="1437.2" y1="1356" x2="1437.2" y2="1420" stroke="#1e1e1e" stroke-width="1.2" />
<path d="M1426.3 1367.7H1437M1426.3 1370.6H1437M1426.3 1410.4H1437M1426.3 1413.8H1437" fill="none" stroke="#1e1e1e" stroke-width="1.2" />
<path d="M1426.3 1369.4Q1421.8 1370.5 1421.8 1376V1421.8H1426.3" fill="none" stroke="#1e1e1e" stroke-width="1.5" />
<line x1="1424.2" y1="1374" x2="1424.2" y2="1421" stroke="#666" stroke-width="1.0" />
<path d="M1421.8 1390.5H1410.5Q1408.1 1390.5 1408.1 1393V1409Q1408.1 1411.6 1410.5 1411.6H1421.8" fill="none" stroke="#1e1e1e" stroke-width="1.5" />
<path d="M1416 1390.5V1384.8H1422.3" fill="none" stroke="#1e1e1e" stroke-width="1.8" />
<path d="M1448.5 1358L1462.2 1351.8Q1465.5 1350.8 1468.5 1351.8Q1471.3 1353 1471.3 1356.9V1374.5A9.2 9.2 0 0 1 1471.3 1392.8L1452 1394.6Q1448.6 1395.2 1447.8 1398L1446.3 1401.5" fill="none" stroke="#1e1e1e" stroke-width="1.7" />
<path d="M1446.3 1375.3L1470.7 1376.8" fill="none" stroke="#1e1e1e" stroke-width="1.4" />
<path d="M1437 1370L1446 1366M1437 1374.5L1446.5 1370.5" fill="none" stroke="#1e1e1e" stroke-width="1.3" />
<rect x="1448.6" y="1365.9" width="12.4" height="4.8" rx="2.4" transform="rotate(-27 1454.8 1368.3)" fill="#fff" stroke="#1e1e1e" stroke-width="1.7"/>
<path d="M1470.5 1380.6H1465.5A4.3 4.3 0 0 0 1464.5 1388.6" fill="none" stroke="#1e1e1e" stroke-width="1.9" />
<circle cx="1470.6" cy="1385" r="4.2" fill="#9a9a9a" stroke="none"/>
<path d="M1445.8 1376.5h3.4M1437.6 1378h4M1437.8 1399h3.6M1438 1404h3M1445.6 1400.8h3" fill="none" stroke="#111" stroke-width="2.6" />
<path d="M1446.3 1401.9L1477.6 1402.4Q1482.7 1403 1482.7 1407V1410.4L1474.7 1413.8L1442.3 1412.7V1400" fill="none" stroke="#1e1e1e" stroke-width="1.6" />
<path d="M1451.6 1407.6h4.4M1461.2 1407.6h4.4" fill="none" stroke="#222" stroke-width="1.6" />
<path d="M1440.6 1416.1Q1448 1417 1452 1419.3L1491.5 1418.4" fill="none" stroke="#8a8a8a" stroke-width="2.6" />
<path d="M1469 1419.6L1489 1419.6Q1493.5 1418.8 1492.4 1416.6" fill="none" stroke="#111" stroke-width="3.2" />
<path d="M1440.5 1414.2L1476 1415.4L1482 1412" fill="none" stroke="#1e1e1e" stroke-width="1.3" />
</g>
</g>
<g id="side-dims">
<line x1="1214.8" y1="509" x2="1214.8" y2="1050" stroke="#5e5e5e" stroke-width="2.0" />
<line x1="1323.7" y1="557" x2="1323.7" y2="602.2" stroke="#5e5e5e" stroke-width="2.0" />
<line x1="1653" y1="509" x2="1653" y2="836" stroke="#5e5e5e" stroke-width="2.0" />
<line x1="1301" y1="602.2" x2="1842" y2="602.2" stroke="#5e5e5e" stroke-width="2.1" />
<line x1="1301" y1="1540" x2="1842" y2="1540" stroke="#5e5e5e" stroke-width="2.1" />
<line x1="1326.6" y1="705.5" x2="1775" y2="705.5" stroke="#5e5e5e" stroke-width="2.2" />
<line x1="1326.6" y1="1436.7" x2="1775" y2="1436.7" stroke="#5e5e5e" stroke-width="2.2" />
<line x1="1630.6" y1="815" x2="1710.5" y2="815" stroke="#5e5e5e" stroke-width="2.0" />
<line x1="1630.6" y1="1327.2" x2="1710.5" y2="1327.2" stroke="#5e5e5e" stroke-width="2.0" />
<line x1="1214.8" y1="512.8" x2="1653" y2="512.8" stroke="#636363" stroke-width="1.9" />
<polygon points="1215.3,512.8 1226.1,509.9 1226.1,515.7" fill="#1c1c1c"/>
<polygon points="1652.5,512.8 1641.7,515.7 1641.7,509.9" fill="#1c1c1c"/>
<line x1="1102.2" y1="560.5" x2="1653" y2="560.5" stroke="#636363" stroke-width="1.9" />
<polygon points="1215.3,560.5 1226.1,557.6 1226.1,563.4" fill="#1c1c1c"/>
<polygon points="1323.2,560.5 1312.4,563.4 1312.4,557.6" fill="#1c1c1c"/>
<polygon points="1324.2,560.5 1335,557.6 1335,563.4" fill="#1c1c1c"/>
<polygon points="1652.5,560.5 1641.7,563.4 1641.7,557.6" fill="#1c1c1c"/>
<line x1="1707" y1="815" x2="1707" y2="1327.2" stroke="#636363" stroke-width="1.9" />
<polygon points="1707,815.6 1709.9,826.4 1704.1,826.4" fill="#1c1c1c"/>
<polygon points="1707,1326.6 1704.1,1315.8 1709.9,1315.8" fill="#1c1c1c"/>
<line x1="1771.6" y1="705.5" x2="1771.6" y2="1436.7" stroke="#636363" stroke-width="1.9" />
<polygon points="1771.6,706.2 1774.5,717 1768.7,717" fill="#1c1c1c"/>
<polygon points="1771.6,1436 1768.7,1425.2 1774.5,1425.2" fill="#1c1c1c"/>
<line x1="1838.8" y1="602.2" x2="1838.8" y2="1540" stroke="#636363" stroke-width="1.9" />
<polygon points="1838.8,602.9 1841.7,613.7 1835.9,613.7" fill="#1c1c1c"/>
<polygon points="1838.8,1539.3 1835.9,1528.5 1841.7,1528.5" fill="#1c1c1c"/>
</g>
<g id="labels">
<text text-anchor="middle" fill="#111"><tspan x="602.8" y="1575.6" font-family="'IPAGothic', 'Liberation Sans', sans-serif" font-size="32">1</tspan><tspan x="621.4" y="1574.2" font-family="'Liberation Sans', 'Liberation Sans', sans-serif" font-size="33">0</tspan><tspan x="640" y="1574.2" font-family="'Liberation Sans', 'Liberation Sans', sans-serif" font-size="33">8</tspan><tspan x="651.6" y="1574.2" font-family="'Liberation Sans', 'Liberation Sans', sans-serif" font-size="33">.</tspan><tspan x="664.8" y="1574.2" font-family="'Liberation Sans', 'Liberation Sans', sans-serif" font-size="33">2</tspan><tspan x="685.2" y="1574.2" font-family="'Liberation Sans', 'Liberation Sans', sans-serif" font-size="28">M</tspan><tspan x="707.6" y="1574.2" font-family="'Liberation Sans', 'Liberation Sans', sans-serif" font-size="28">M</tspan></text>
<text text-anchor="middle" fill="#111"><tspan x="583.36" y="1617.9" font-family="'IPAGothic', 'Liberation Sans', sans-serif" font-size="36">（</tspan><tspan x="611" y="1616.6" font-family="'Liberation Sans', 'Liberation Sans', sans-serif" font-size="33">4</tspan><tspan x="628.8" y="1616.2" font-family="'Liberation Sans', 'Liberation Sans', sans-serif" font-size="33">−</tspan><tspan x="646.7" y="1618" font-family="'IPAGothic', 'Liberation Sans', sans-serif" font-size="32">1</tspan><tspan x="664.9" y="1617.1" font-family="'IPAGothic', 'Liberation Sans', sans-serif" font-size="33">/</tspan><tspan x="683.1" y="1616.6" font-family="'Liberation Sans', 'Liberation Sans', sans-serif" font-size="33">4</tspan><tspan x="710.93" y="1616.6" font-family="'IPAGothic', 'Liberation Sans', sans-serif" font-size="34">″</tspan><tspan x="727.84" y="1617.9" font-family="'IPAGothic', 'Liberation Sans', sans-serif" font-size="36">）</tspan></text>
<text text-anchor="middle" fill="#111" transform="rotate(-90)"><tspan x="-1120.3" y="144.2" font-family="'IPAGothic', 'Liberation Sans', sans-serif" font-size="32">1</tspan><tspan x="-1103.7" y="142.8" font-family="'Liberation Sans', 'Liberation Sans', sans-serif" font-size="33">0</tspan><tspan x="-1083.2" y="142.8" font-family="'Liberation Sans', 'Liberation Sans', sans-serif" font-size="33">8</tspan><tspan x="-1069.2" y="142.8" font-family="'Liberation Sans', 'Liberation Sans', sans-serif" font-size="33">.</tspan><tspan x="-1056.4" y="142.8" font-family="'Liberation Sans', 'Liberation Sans', sans-serif" font-size="33">2</tspan><tspan x="-1036.2" y="142.8" font-family="'Liberation Sans', 'Liberation Sans', sans-serif" font-size="28">M</tspan><tspan x="-1013.1" y="142.8" font-family="'Liberation Sans', 'Liberation Sans', sans-serif" font-size="28">M</tspan></text>
<text text-anchor="middle" fill="#111" transform="rotate(-90)"><tspan x="-1137.84" y="183.7" font-family="'IPAGothic', 'Liberation Sans', sans-serif" font-size="36">（</tspan><tspan x="-1112.7" y="182.4" font-family="'Liberation Sans', 'Liberation Sans', sans-serif" font-size="33">4</tspan><tspan x="-1094.4" y="182" font-family="'Liberation Sans', 'Liberation Sans', sans-serif" font-size="33">−</tspan><tspan x="-1075.8" y="183.8" font-family="'IPAGothic', 'Liberation Sans', sans-serif" font-size="32">1</tspan><tspan x="-1056.4" y="182.9" font-family="'IPAGothic', 'Liberation Sans', sans-serif" font-size="33">/</tspan><tspan x="-1038.1" y="182.4" font-family="'Liberation Sans', 'Liberation Sans', sans-serif" font-size="33">4</tspan><tspan x="-1011.47" y="182.4" font-family="'IPAGothic', 'Liberation Sans', sans-serif" font-size="34">″</tspan><tspan x="-993.96" y="183.7" font-family="'IPAGothic', 'Liberation Sans', sans-serif" font-size="36">）</tspan></text>
<text text-anchor="middle" fill="#111"><tspan x="1336.5" y="505.6" font-family="'Liberation Sans', 'Liberation Sans', sans-serif" font-size="33">7</tspan><tspan x="1355.7" y="505.6" font-family="'Liberation Sans', 'Liberation Sans', sans-serif" font-size="33">6</tspan><tspan x="1366.4" y="505.6" font-family="'Liberation Sans', 'Liberation Sans', sans-serif" font-size="33">.</tspan><tspan x="1378.5" y="505.6" font-family="'Liberation Sans', 'Liberation Sans', sans-serif" font-size="33">9</tspan><tspan x="1398.4" y="505.6" font-family="'Liberation Sans', 'Liberation Sans', sans-serif" font-size="28">M</tspan><tspan x="1421.3" y="505.6" font-family="'Liberation Sans', 'Liberation Sans', sans-serif" font-size="28">M</tspan></text>
<text text-anchor="middle" fill="#111"><tspan x="1343.16" y="548.7" font-family="'IPAGothic', 'Liberation Sans', sans-serif" font-size="36">（</tspan><tspan x="1371.1" y="547.4" font-family="'Liberation Sans', 'Liberation Sans', sans-serif" font-size="33">3</tspan><tspan x="1397.63" y="547.4" font-family="'IPAGothic', 'Liberation Sans', sans-serif" font-size="34">″</tspan><tspan x="1415.24" y="548.7" font-family="'IPAGothic', 'Liberation Sans', sans-serif" font-size="36">）</tspan></text>
<text text-anchor="middle" fill="#111"><tspan x="1110.5" y="554" font-family="'IPAGothic', 'Liberation Sans', sans-serif" font-size="32">1</tspan><tspan x="1127.6" y="552.6" font-family="'Liberation Sans', 'Liberation Sans', sans-serif" font-size="33">9</tspan><tspan x="1141.9" y="552.6" font-family="'Liberation Sans', 'Liberation Sans', sans-serif" font-size="33">.</tspan><tspan x="1155.6" y="552.6" font-family="'Liberation Sans', 'Liberation Sans', sans-serif" font-size="33">3</tspan><tspan x="1175.4" y="552.6" font-family="'Liberation Sans', 'Liberation Sans', sans-serif" font-size="28">M</tspan><tspan x="1197.8" y="552.6" font-family="'Liberation Sans', 'Liberation Sans', sans-serif" font-size="28">M</tspan></text>
<text text-anchor="middle" fill="#111"><tspan x="1101.36" y="594.7" font-family="'IPAGothic', 'Liberation Sans', sans-serif" font-size="36">（</tspan><tspan x="1127.9" y="593.4" font-family="'Liberation Sans', 'Liberation Sans', sans-serif" font-size="33">3</tspan><tspan x="1146.2" y="593.9" font-family="'IPAGothic', 'Liberation Sans', sans-serif" font-size="33">/</tspan><tspan x="1164.6" y="593.4" font-family="'Liberation Sans', 'Liberation Sans', sans-serif" font-size="33">4</tspan><tspan x="1191.63" y="593.4" font-family="'IPAGothic', 'Liberation Sans', sans-serif" font-size="34">″</tspan><tspan x="1209.14" y="594.7" font-family="'IPAGothic', 'Liberation Sans', sans-serif" font-size="36">）</tspan></text>
<text text-anchor="middle" fill="#111"><tspan x="1460.6" y="552.7" font-family="'Liberation Sans', 'Liberation Sans', sans-serif" font-size="33">5</tspan><tspan x="1480.2" y="552.7" font-family="'Liberation Sans', 'Liberation Sans', sans-serif" font-size="33">7</tspan><tspan x="1490.9" y="552.7" font-family="'Liberation Sans', 'Liberation Sans', sans-serif" font-size="33">.</tspan><tspan x="1503.4" y="552.7" font-family="'Liberation Sans', 'Liberation Sans', sans-serif" font-size="33">7</tspan><tspan x="1523.6" y="552.7" font-family="'Liberation Sans', 'Liberation Sans', sans-serif" font-size="28">M</tspan><tspan x="1546.4" y="552.7" font-family="'Liberation Sans', 'Liberation Sans', sans-serif" font-size="28">M</tspan></text>
<text text-anchor="middle" fill="#111"><tspan x="1432.06" y="594.5" font-family="'IPAGothic', 'Liberation Sans', sans-serif" font-size="36">（</tspan><tspan x="1458.6" y="593.2" font-family="'Liberation Sans', 'Liberation Sans', sans-serif" font-size="33">2</tspan><tspan x="1476.8" y="592.8" font-family="'Liberation Sans', 'Liberation Sans', sans-serif" font-size="33">−</tspan><tspan x="1495.3" y="594.6" font-family="'IPAGothic', 'Liberation Sans', sans-serif" font-size="32">1</tspan><tspan x="1513.1" y="593.7" font-family="'IPAGothic', 'Liberation Sans', sans-serif" font-size="33">/</tspan><tspan x="1532" y="593.2" font-family="'Liberation Sans', 'Liberation Sans', sans-serif" font-size="33">4</tspan><tspan x="1559.83" y="593.2" font-family="'IPAGothic', 'Liberation Sans', sans-serif" font-size="34">″</tspan><tspan x="1576.44" y="594.5" font-family="'IPAGothic', 'Liberation Sans', sans-serif" font-size="36">）</tspan></text>
<text text-anchor="middle" fill="#111" transform="rotate(-90)"><tspan x="-1199.9" y="1700.2" font-family="'IPAGothic', 'Liberation Sans', sans-serif" font-size="36">φ</tspan><tspan x="-1177.4" y="1699.8" font-family="'Liberation Sans', 'Liberation Sans', sans-serif" font-size="33">9</tspan><tspan x="-1156.7" y="1699.8" font-family="'Liberation Sans', 'Liberation Sans', sans-serif" font-size="33">0</tspan><tspan x="-1136.5" y="1699.8" font-family="'Liberation Sans', 'Liberation Sans', sans-serif" font-size="28">M</tspan><tspan x="-1113.3" y="1699.8" font-family="'Liberation Sans', 'Liberation Sans', sans-serif" font-size="28">M</tspan><tspan x="-1086.44" y="1701.1" font-family="'IPAGothic', 'Liberation Sans', sans-serif" font-size="36">（</tspan><tspan x="-1059.6" y="1699.8" font-family="'Liberation Sans', 'Liberation Sans', sans-serif" font-size="33">3</tspan><tspan x="-1041.5" y="1699.4" font-family="'Liberation Sans', 'Liberation Sans', sans-serif" font-size="33">−</tspan><tspan x="-1023.7" y="1701.2" font-family="'IPAGothic', 'Liberation Sans', sans-serif" font-size="32">1</tspan><tspan x="-1009.6" y="1700.3" font-family="'IPAGothic', 'Liberation Sans', sans-serif" font-size="33">/</tspan><tspan x="-989.3" y="1699.8" font-family="'Liberation Sans', 'Liberation Sans', sans-serif" font-size="33">2</tspan><tspan x="-963.77" y="1699.8" font-family="'IPAGothic', 'Liberation Sans', sans-serif" font-size="34">″</tspan><tspan x="-944.16" y="1701.1" font-family="'IPAGothic', 'Liberation Sans', sans-serif" font-size="36">）</tspan></text>
<text text-anchor="middle" fill="#111" transform="rotate(-90)"><tspan x="-1186" y="1761.7" font-family="'IPAGothic', 'Liberation Sans', sans-serif" font-size="36">φ</tspan><tspan x="-1163.2" y="1762.7" font-family="'IPAGothic', 'Liberation Sans', sans-serif" font-size="32">1</tspan><tspan x="-1145.7" y="1761.3" font-family="'Liberation Sans', 'Liberation Sans', sans-serif" font-size="33">2</tspan><tspan x="-1127.5" y="1761.3" font-family="'Liberation Sans', 'Liberation Sans', sans-serif" font-size="33">8</tspan><tspan x="-1115" y="1761.3" font-family="'Liberation Sans', 'Liberation Sans', sans-serif" font-size="33">.</tspan><tspan x="-1100.8" y="1761.3" font-family="'Liberation Sans', 'Liberation Sans', sans-serif" font-size="33">8</tspan><tspan x="-1081.3" y="1761.3" font-family="'Liberation Sans', 'Liberation Sans', sans-serif" font-size="28">M</tspan><tspan x="-1058.9" y="1761.3" font-family="'Liberation Sans', 'Liberation Sans', sans-serif" font-size="28">M</tspan><tspan x="-1031.74" y="1762.6" font-family="'IPAGothic', 'Liberation Sans', sans-serif" font-size="36">（</tspan><tspan x="-1004.4" y="1761.3" font-family="'Liberation Sans', 'Liberation Sans', sans-serif" font-size="33">5</tspan><tspan x="-980.57" y="1761.3" font-family="'IPAGothic', 'Liberation Sans', sans-serif" font-size="34">″</tspan><tspan x="-957.76" y="1762.6" font-family="'IPAGothic', 'Liberation Sans', sans-serif" font-size="36">）</tspan></text>
<text text-anchor="middle" fill="#111" transform="rotate(-90)"><tspan x="-1213.8" y="1829.6" font-family="'IPAGothic', 'Liberation Sans', sans-serif" font-size="36">φ</tspan><tspan x="-1190.8" y="1830.6" font-family="'IPAGothic', 'Liberation Sans', sans-serif" font-size="32">1</tspan><tspan x="-1174.5" y="1829.2" font-family="'Liberation Sans', 'Liberation Sans', sans-serif" font-size="33">6</tspan><tspan x="-1154.9" y="1829.2" font-family="'Liberation Sans', 'Liberation Sans', sans-serif" font-size="33">5</tspan><tspan x="-1134" y="1829.2" font-family="'Liberation Sans', 'Liberation Sans', sans-serif" font-size="28">M</tspan><tspan x="-1109.9" y="1829.2" font-family="'Liberation Sans', 'Liberation Sans', sans-serif" font-size="28">M</tspan><tspan x="-1078.24" y="1830.5" font-family="'IPAGothic', 'Liberation Sans', sans-serif" font-size="36">（</tspan><tspan x="-1051" y="1829.2" font-family="'Liberation Sans', 'Liberation Sans', sans-serif" font-size="33">6</tspan><tspan x="-1032.9" y="1828.8" font-family="'Liberation Sans', 'Liberation Sans', sans-serif" font-size="33">−</tspan><tspan x="-1014.7" y="1830.6" font-family="'IPAGothic', 'Liberation Sans', sans-serif" font-size="32">1</tspan><tspan x="-999.6" y="1829.7" font-family="'IPAGothic', 'Liberation Sans', sans-serif" font-size="33">/</tspan><tspan x="-978.8" y="1829.2" font-family="'Liberation Sans', 'Liberation Sans', sans-serif" font-size="33">2</tspan><tspan x="-953.07" y="1829.2" font-family="'IPAGothic', 'Liberation Sans', sans-serif" font-size="34">″</tspan><tspan x="-934.26" y="1830.5" font-family="'IPAGothic', 'Liberation Sans', sans-serif" font-size="36">）</tspan></text>
</g>
</svg>
</body>
</html>
